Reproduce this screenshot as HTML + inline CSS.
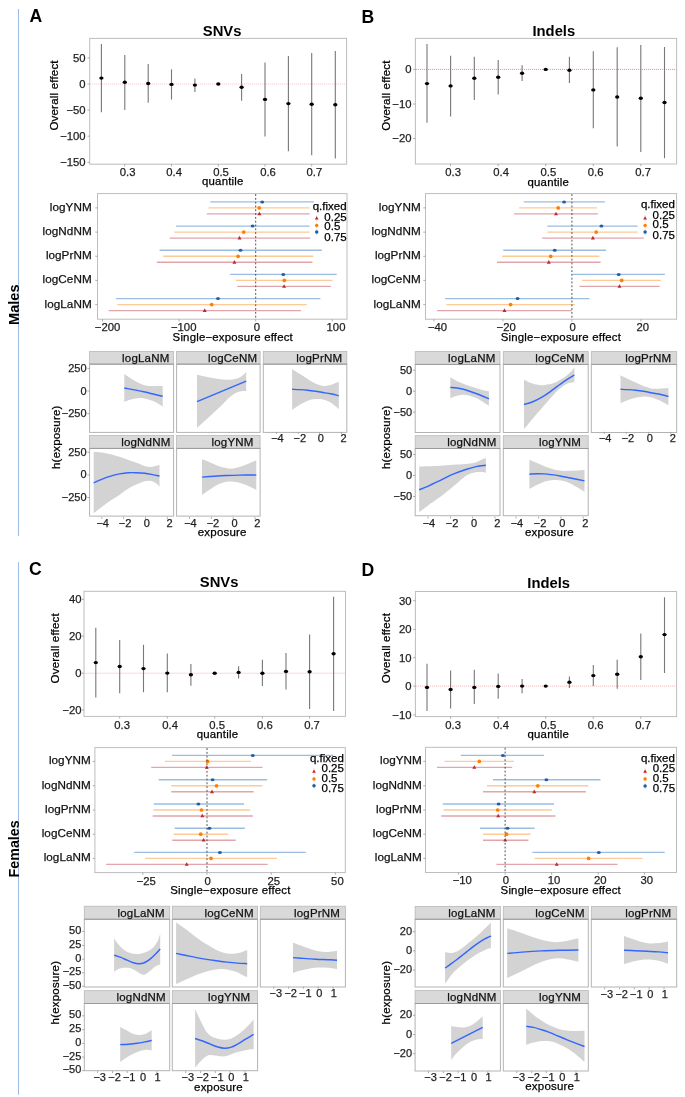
<!DOCTYPE html>
<html><head><meta charset="utf-8"><title>Figure</title>
<style>
html,body{margin:0;padding:0;background:#fff;}
body{width:685px;height:1097px;overflow:hidden;}
svg{display:block;font-family:"Liberation Sans", sans-serif;will-change:transform;}
</style></head>
<body>
<svg width="685" height="1097" viewBox="0 0 685 1097">
<rect x="0" y="0" width="685" height="1097" fill="#ffffff"/>
<line x1="18.50" y1="9.00" x2="18.50" y2="536.00" stroke="#9dbde4" stroke-width="1.1"/>
<line x1="18.50" y1="562.20" x2="18.50" y2="1094.70" stroke="#9dbde4" stroke-width="1.1"/>
<text x="19.30" y="304.70" font-size="14.6" text-anchor="middle" font-weight="bold" fill="#000" transform="rotate(-90 19.30 304.70)">Males</text>
<text x="19.30" y="848.90" font-size="14.3" text-anchor="middle" font-weight="bold" fill="#000" transform="rotate(-90 19.30 848.90)">Females</text>
<text x="29.40" y="22.30" font-size="17.6" text-anchor="start" font-weight="bold" fill="#000">A</text>
<text x="361.40" y="22.50" font-size="17.6" text-anchor="start" font-weight="bold" fill="#000">B</text>
<text x="29.00" y="575.40" font-size="17.6" text-anchor="start" font-weight="bold" fill="#000">C</text>
<text x="361.40" y="576.00" font-size="17.6" text-anchor="start" font-weight="bold" fill="#000">D</text>
<rect x="89.70" y="38.40" width="256.90" height="125.80" fill="#ffffff" stroke="#bdbdbd" stroke-width="1.0"/>
<line x1="90.20" y1="84.00" x2="346.10" y2="84.00" stroke="#f0c4c8" stroke-width="1.0" stroke-dasharray="1,1"/>
<line x1="87.50" y1="57.90" x2="89.70" y2="57.90" stroke="#9a9a9a" stroke-width="0.8"/>
<text x="85.60" y="61.70" font-size="11.3" text-anchor="end" stroke="#1e1e1e" stroke-width="0.25" fill="#1e1e1e">50</text>
<line x1="87.50" y1="84.00" x2="89.70" y2="84.00" stroke="#9a9a9a" stroke-width="0.8"/>
<text x="85.60" y="87.80" font-size="11.3" text-anchor="end" stroke="#1e1e1e" stroke-width="0.25" fill="#1e1e1e">0</text>
<line x1="87.50" y1="110.10" x2="89.70" y2="110.10" stroke="#9a9a9a" stroke-width="0.8"/>
<text x="85.60" y="113.90" font-size="11.3" text-anchor="end" stroke="#1e1e1e" stroke-width="0.25" fill="#1e1e1e">−50</text>
<line x1="87.50" y1="136.20" x2="89.70" y2="136.20" stroke="#9a9a9a" stroke-width="0.8"/>
<text x="85.60" y="140.00" font-size="11.3" text-anchor="end" stroke="#1e1e1e" stroke-width="0.25" fill="#1e1e1e">−100</text>
<line x1="87.50" y1="162.30" x2="89.70" y2="162.30" stroke="#9a9a9a" stroke-width="0.8"/>
<text x="85.60" y="166.10" font-size="11.3" text-anchor="end" stroke="#1e1e1e" stroke-width="0.25" fill="#1e1e1e">−150</text>
<line x1="124.70" y1="164.20" x2="124.70" y2="166.40" stroke="#9a9a9a" stroke-width="0.8"/>
<text x="127.60" y="176.00" font-size="11.3" text-anchor="middle" stroke="#1e1e1e" stroke-width="0.25" fill="#1e1e1e">0.3</text>
<line x1="171.50" y1="164.20" x2="171.50" y2="166.40" stroke="#9a9a9a" stroke-width="0.8"/>
<text x="174.10" y="176.00" font-size="11.3" text-anchor="middle" stroke="#1e1e1e" stroke-width="0.25" fill="#1e1e1e">0.4</text>
<line x1="218.30" y1="164.20" x2="218.30" y2="166.40" stroke="#9a9a9a" stroke-width="0.8"/>
<text x="221.00" y="176.00" font-size="11.3" text-anchor="middle" stroke="#1e1e1e" stroke-width="0.25" fill="#1e1e1e">0.5</text>
<line x1="265.00" y1="164.20" x2="265.00" y2="166.40" stroke="#9a9a9a" stroke-width="0.8"/>
<text x="268.00" y="176.00" font-size="11.3" text-anchor="middle" stroke="#1e1e1e" stroke-width="0.25" fill="#1e1e1e">0.6</text>
<line x1="311.70" y1="164.20" x2="311.70" y2="166.40" stroke="#9a9a9a" stroke-width="0.8"/>
<text x="314.40" y="176.00" font-size="11.3" text-anchor="middle" stroke="#1e1e1e" stroke-width="0.25" fill="#1e1e1e">0.7</text>
<line x1="101.40" y1="44.00" x2="101.40" y2="112.20" stroke="#777777" stroke-width="1.1"/>
<ellipse cx="101.40" cy="78.10" rx="2.15" ry="1.7" fill="#000"/>
<line x1="124.80" y1="55.00" x2="124.80" y2="109.90" stroke="#777777" stroke-width="1.1"/>
<ellipse cx="124.80" cy="82.30" rx="2.15" ry="1.7" fill="#000"/>
<line x1="148.20" y1="64.10" x2="148.20" y2="102.70" stroke="#777777" stroke-width="1.1"/>
<ellipse cx="148.20" cy="83.50" rx="2.15" ry="1.7" fill="#000"/>
<line x1="171.50" y1="69.30" x2="171.50" y2="99.60" stroke="#777777" stroke-width="1.1"/>
<ellipse cx="171.50" cy="84.40" rx="2.15" ry="1.7" fill="#000"/>
<line x1="194.90" y1="78.40" x2="194.90" y2="91.90" stroke="#777777" stroke-width="1.1"/>
<ellipse cx="194.90" cy="85.10" rx="2.15" ry="1.7" fill="#000"/>
<ellipse cx="218.30" cy="84.00" rx="2.15" ry="1.7" fill="#000"/>
<line x1="241.60" y1="73.90" x2="241.60" y2="100.80" stroke="#777777" stroke-width="1.1"/>
<ellipse cx="241.60" cy="87.20" rx="2.15" ry="1.7" fill="#000"/>
<line x1="265.00" y1="62.50" x2="265.00" y2="136.50" stroke="#777777" stroke-width="1.1"/>
<ellipse cx="265.00" cy="99.40" rx="2.15" ry="1.7" fill="#000"/>
<line x1="288.40" y1="55.90" x2="288.40" y2="151.30" stroke="#777777" stroke-width="1.1"/>
<ellipse cx="288.40" cy="103.60" rx="2.15" ry="1.7" fill="#000"/>
<line x1="311.70" y1="53.10" x2="311.70" y2="155.20" stroke="#777777" stroke-width="1.1"/>
<ellipse cx="311.70" cy="104.30" rx="2.15" ry="1.7" fill="#000"/>
<line x1="335.30" y1="51.00" x2="335.30" y2="158.50" stroke="#777777" stroke-width="1.1"/>
<ellipse cx="335.30" cy="104.80" rx="2.15" ry="1.7" fill="#000"/>
<text x="222.10" y="35.60" font-size="14.8" text-anchor="middle" font-weight="bold" fill="#000">SNVs</text>
<text x="222.80" y="185.10" font-size="11.4" text-anchor="middle" letter-spacing="0.2" stroke="#000" stroke-width="0.25" fill="#000">quantile</text>
<text x="57.60" y="95.40" font-size="11.5" text-anchor="middle" letter-spacing="0.2" stroke="#000" stroke-width="0.25" fill="#000" transform="rotate(-90 57.60 95.40)">Overall effect</text>
<rect x="415.40" y="38.40" width="261.20" height="125.60" fill="#ffffff" stroke="#bdbdbd" stroke-width="1.0"/>
<line x1="415.90" y1="69.40" x2="676.10" y2="69.40" stroke="#dd8691" stroke-width="1.0" stroke-dasharray="1,1"/>
<line x1="413.20" y1="69.40" x2="415.40" y2="69.40" stroke="#9a9a9a" stroke-width="0.8"/>
<text x="411.50" y="73.20" font-size="11.3" text-anchor="end" stroke="#1e1e1e" stroke-width="0.25" fill="#1e1e1e">0</text>
<line x1="413.20" y1="104.00" x2="415.40" y2="104.00" stroke="#9a9a9a" stroke-width="0.8"/>
<text x="411.50" y="107.80" font-size="11.3" text-anchor="end" stroke="#1e1e1e" stroke-width="0.25" fill="#1e1e1e">−10</text>
<line x1="413.20" y1="138.50" x2="415.40" y2="138.50" stroke="#9a9a9a" stroke-width="0.8"/>
<text x="411.50" y="142.30" font-size="11.3" text-anchor="end" stroke="#1e1e1e" stroke-width="0.25" fill="#1e1e1e">−20</text>
<line x1="450.60" y1="164.00" x2="450.60" y2="166.20" stroke="#9a9a9a" stroke-width="0.8"/>
<text x="453.20" y="176.00" font-size="11.3" text-anchor="middle" stroke="#1e1e1e" stroke-width="0.25" fill="#1e1e1e">0.3</text>
<line x1="498.20" y1="164.00" x2="498.20" y2="166.20" stroke="#9a9a9a" stroke-width="0.8"/>
<text x="501.10" y="176.00" font-size="11.3" text-anchor="middle" stroke="#1e1e1e" stroke-width="0.25" fill="#1e1e1e">0.4</text>
<line x1="545.70" y1="164.00" x2="545.70" y2="166.20" stroke="#9a9a9a" stroke-width="0.8"/>
<text x="548.40" y="176.00" font-size="11.3" text-anchor="middle" stroke="#1e1e1e" stroke-width="0.25" fill="#1e1e1e">0.5</text>
<line x1="593.30" y1="164.00" x2="593.30" y2="166.20" stroke="#9a9a9a" stroke-width="0.8"/>
<text x="595.60" y="176.00" font-size="11.3" text-anchor="middle" stroke="#1e1e1e" stroke-width="0.25" fill="#1e1e1e">0.6</text>
<line x1="640.80" y1="164.00" x2="640.80" y2="166.20" stroke="#9a9a9a" stroke-width="0.8"/>
<text x="643.20" y="176.00" font-size="11.3" text-anchor="middle" stroke="#1e1e1e" stroke-width="0.25" fill="#1e1e1e">0.7</text>
<line x1="427.00" y1="44.10" x2="427.00" y2="122.70" stroke="#777777" stroke-width="1.1"/>
<ellipse cx="427.00" cy="83.60" rx="2.15" ry="1.7" fill="#000"/>
<line x1="450.60" y1="55.70" x2="450.60" y2="116.40" stroke="#777777" stroke-width="1.1"/>
<ellipse cx="450.60" cy="85.90" rx="2.15" ry="1.7" fill="#000"/>
<line x1="474.30" y1="56.80" x2="474.30" y2="100.10" stroke="#777777" stroke-width="1.1"/>
<ellipse cx="474.30" cy="78.30" rx="2.15" ry="1.7" fill="#000"/>
<line x1="498.20" y1="59.90" x2="498.20" y2="94.60" stroke="#777777" stroke-width="1.1"/>
<ellipse cx="498.20" cy="77.20" rx="2.15" ry="1.7" fill="#000"/>
<line x1="522.10" y1="65.20" x2="522.10" y2="81.00" stroke="#777777" stroke-width="1.1"/>
<ellipse cx="522.10" cy="73.30" rx="2.15" ry="1.7" fill="#000"/>
<ellipse cx="545.70" cy="69.40" rx="2.15" ry="1.7" fill="#000"/>
<line x1="569.40" y1="56.80" x2="569.40" y2="83.00" stroke="#777777" stroke-width="1.1"/>
<ellipse cx="569.40" cy="70.20" rx="2.15" ry="1.7" fill="#000"/>
<line x1="593.30" y1="51.20" x2="593.30" y2="128.20" stroke="#777777" stroke-width="1.1"/>
<ellipse cx="593.30" cy="89.90" rx="2.15" ry="1.7" fill="#000"/>
<line x1="617.20" y1="47.30" x2="617.20" y2="146.60" stroke="#777777" stroke-width="1.1"/>
<ellipse cx="617.20" cy="97.00" rx="2.15" ry="1.7" fill="#000"/>
<line x1="640.80" y1="44.90" x2="640.80" y2="151.90" stroke="#777777" stroke-width="1.1"/>
<ellipse cx="640.80" cy="98.30" rx="2.15" ry="1.7" fill="#000"/>
<line x1="664.50" y1="47.00" x2="664.50" y2="158.20" stroke="#777777" stroke-width="1.1"/>
<ellipse cx="664.50" cy="102.50" rx="2.15" ry="1.7" fill="#000"/>
<text x="553.85" y="35.50" font-size="14.8" text-anchor="middle" font-weight="bold" fill="#000">Indels</text>
<text x="548.30" y="185.50" font-size="11.4" text-anchor="middle" letter-spacing="0.2" stroke="#000" stroke-width="0.25" fill="#000">quantile</text>
<text x="389.90" y="95.50" font-size="11.5" text-anchor="middle" letter-spacing="0.2" stroke="#000" stroke-width="0.25" fill="#000" transform="rotate(-90 389.90 95.50)">Overall effect</text>
<rect x="84.00" y="591.30" width="261.50" height="125.10" fill="#ffffff" stroke="#bdbdbd" stroke-width="1.0"/>
<line x1="84.50" y1="673.20" x2="345.00" y2="673.20" stroke="#ecb4ba" stroke-width="1.0" stroke-dasharray="1,1"/>
<line x1="81.80" y1="599.30" x2="84.00" y2="599.30" stroke="#9a9a9a" stroke-width="0.8"/>
<text x="81.60" y="603.10" font-size="11.3" text-anchor="end" stroke="#1e1e1e" stroke-width="0.25" fill="#1e1e1e">40</text>
<line x1="81.80" y1="636.20" x2="84.00" y2="636.20" stroke="#9a9a9a" stroke-width="0.8"/>
<text x="81.60" y="640.00" font-size="11.3" text-anchor="end" stroke="#1e1e1e" stroke-width="0.25" fill="#1e1e1e">20</text>
<line x1="81.80" y1="673.20" x2="84.00" y2="673.20" stroke="#9a9a9a" stroke-width="0.8"/>
<text x="81.60" y="677.00" font-size="11.3" text-anchor="end" stroke="#1e1e1e" stroke-width="0.25" fill="#1e1e1e">0</text>
<line x1="81.80" y1="710.00" x2="84.00" y2="710.00" stroke="#9a9a9a" stroke-width="0.8"/>
<text x="81.60" y="713.80" font-size="11.3" text-anchor="end" stroke="#1e1e1e" stroke-width="0.25" fill="#1e1e1e">−20</text>
<line x1="119.70" y1="716.40" x2="119.70" y2="718.60" stroke="#9a9a9a" stroke-width="0.8"/>
<text x="122.20" y="728.90" font-size="11.3" text-anchor="middle" stroke="#1e1e1e" stroke-width="0.25" fill="#1e1e1e">0.3</text>
<line x1="167.30" y1="716.40" x2="167.30" y2="718.60" stroke="#9a9a9a" stroke-width="0.8"/>
<text x="170.10" y="728.90" font-size="11.3" text-anchor="middle" stroke="#1e1e1e" stroke-width="0.25" fill="#1e1e1e">0.4</text>
<line x1="214.70" y1="716.40" x2="214.70" y2="718.60" stroke="#9a9a9a" stroke-width="0.8"/>
<text x="217.20" y="728.90" font-size="11.3" text-anchor="middle" stroke="#1e1e1e" stroke-width="0.25" fill="#1e1e1e">0.5</text>
<line x1="262.40" y1="716.40" x2="262.40" y2="718.60" stroke="#9a9a9a" stroke-width="0.8"/>
<text x="264.90" y="728.90" font-size="11.3" text-anchor="middle" stroke="#1e1e1e" stroke-width="0.25" fill="#1e1e1e">0.6</text>
<line x1="309.60" y1="716.40" x2="309.60" y2="718.60" stroke="#9a9a9a" stroke-width="0.8"/>
<text x="312.00" y="728.90" font-size="11.3" text-anchor="middle" stroke="#1e1e1e" stroke-width="0.25" fill="#1e1e1e">0.7</text>
<line x1="95.80" y1="627.80" x2="95.80" y2="697.40" stroke="#777777" stroke-width="1.1"/>
<ellipse cx="95.80" cy="662.60" rx="2.15" ry="1.7" fill="#000"/>
<line x1="119.70" y1="640.10" x2="119.70" y2="693.20" stroke="#777777" stroke-width="1.1"/>
<ellipse cx="119.70" cy="666.50" rx="2.15" ry="1.7" fill="#000"/>
<line x1="143.50" y1="644.80" x2="143.50" y2="692.20" stroke="#777777" stroke-width="1.1"/>
<ellipse cx="143.50" cy="668.60" rx="2.15" ry="1.7" fill="#000"/>
<line x1="167.30" y1="653.50" x2="167.30" y2="692.20" stroke="#777777" stroke-width="1.1"/>
<ellipse cx="167.30" cy="673.10" rx="2.15" ry="1.7" fill="#000"/>
<line x1="190.90" y1="664.00" x2="190.90" y2="685.70" stroke="#777777" stroke-width="1.1"/>
<ellipse cx="190.90" cy="674.70" rx="2.15" ry="1.7" fill="#000"/>
<ellipse cx="214.70" cy="673.20" rx="2.15" ry="1.7" fill="#000"/>
<line x1="238.60" y1="666.20" x2="238.60" y2="678.60" stroke="#777777" stroke-width="1.1"/>
<ellipse cx="238.60" cy="672.40" rx="2.15" ry="1.7" fill="#000"/>
<line x1="262.40" y1="659.80" x2="262.40" y2="686.10" stroke="#777777" stroke-width="1.1"/>
<ellipse cx="262.40" cy="673.20" rx="2.15" ry="1.7" fill="#000"/>
<line x1="286.00" y1="653.10" x2="286.00" y2="689.60" stroke="#777777" stroke-width="1.1"/>
<ellipse cx="286.00" cy="671.40" rx="2.15" ry="1.7" fill="#000"/>
<line x1="309.60" y1="634.50" x2="309.60" y2="708.90" stroke="#777777" stroke-width="1.1"/>
<ellipse cx="309.60" cy="671.70" rx="2.15" ry="1.7" fill="#000"/>
<line x1="333.60" y1="596.70" x2="333.60" y2="710.90" stroke="#777777" stroke-width="1.1"/>
<ellipse cx="333.60" cy="653.80" rx="2.15" ry="1.7" fill="#000"/>
<text x="219.10" y="587.30" font-size="14.8" text-anchor="middle" font-weight="bold" fill="#000">SNVs</text>
<text x="217.50" y="738.20" font-size="11.4" text-anchor="middle" letter-spacing="0.2" stroke="#000" stroke-width="0.25" fill="#000">quantile</text>
<text x="58.70" y="648.20" font-size="11.5" text-anchor="middle" letter-spacing="0.2" stroke="#000" stroke-width="0.25" fill="#000" transform="rotate(-90 58.70 648.20)">Overall effect</text>
<rect x="415.40" y="591.50" width="261.20" height="125.10" fill="#ffffff" stroke="#bdbdbd" stroke-width="1.0"/>
<line x1="415.90" y1="686.10" x2="676.10" y2="686.10" stroke="#ecb4ba" stroke-width="1.0" stroke-dasharray="1,1"/>
<line x1="413.20" y1="600.70" x2="415.40" y2="600.70" stroke="#9a9a9a" stroke-width="0.8"/>
<text x="411.50" y="604.50" font-size="11.3" text-anchor="end" stroke="#1e1e1e" stroke-width="0.25" fill="#1e1e1e">30</text>
<line x1="413.20" y1="629.40" x2="415.40" y2="629.40" stroke="#9a9a9a" stroke-width="0.8"/>
<text x="411.50" y="633.20" font-size="11.3" text-anchor="end" stroke="#1e1e1e" stroke-width="0.25" fill="#1e1e1e">20</text>
<line x1="413.20" y1="657.70" x2="415.40" y2="657.70" stroke="#9a9a9a" stroke-width="0.8"/>
<text x="411.50" y="661.50" font-size="11.3" text-anchor="end" stroke="#1e1e1e" stroke-width="0.25" fill="#1e1e1e">10</text>
<line x1="413.20" y1="686.10" x2="415.40" y2="686.10" stroke="#9a9a9a" stroke-width="0.8"/>
<text x="411.50" y="689.90" font-size="11.3" text-anchor="end" stroke="#1e1e1e" stroke-width="0.25" fill="#1e1e1e">0</text>
<line x1="413.20" y1="715.00" x2="415.40" y2="715.00" stroke="#9a9a9a" stroke-width="0.8"/>
<text x="411.50" y="718.80" font-size="11.3" text-anchor="end" stroke="#1e1e1e" stroke-width="0.25" fill="#1e1e1e">−10</text>
<line x1="450.60" y1="716.60" x2="450.60" y2="718.80" stroke="#9a9a9a" stroke-width="0.8"/>
<text x="453.20" y="729.20" font-size="11.3" text-anchor="middle" stroke="#1e1e1e" stroke-width="0.25" fill="#1e1e1e">0.3</text>
<line x1="498.20" y1="716.60" x2="498.20" y2="718.80" stroke="#9a9a9a" stroke-width="0.8"/>
<text x="501.10" y="729.20" font-size="11.3" text-anchor="middle" stroke="#1e1e1e" stroke-width="0.25" fill="#1e1e1e">0.4</text>
<line x1="545.70" y1="716.60" x2="545.70" y2="718.80" stroke="#9a9a9a" stroke-width="0.8"/>
<text x="548.40" y="729.20" font-size="11.3" text-anchor="middle" stroke="#1e1e1e" stroke-width="0.25" fill="#1e1e1e">0.5</text>
<line x1="593.30" y1="716.60" x2="593.30" y2="718.80" stroke="#9a9a9a" stroke-width="0.8"/>
<text x="595.60" y="729.20" font-size="11.3" text-anchor="middle" stroke="#1e1e1e" stroke-width="0.25" fill="#1e1e1e">0.6</text>
<line x1="640.80" y1="716.60" x2="640.80" y2="718.80" stroke="#9a9a9a" stroke-width="0.8"/>
<text x="643.20" y="729.20" font-size="11.3" text-anchor="middle" stroke="#1e1e1e" stroke-width="0.25" fill="#1e1e1e">0.7</text>
<line x1="427.00" y1="663.80" x2="427.00" y2="711.10" stroke="#777777" stroke-width="1.1"/>
<ellipse cx="427.00" cy="687.40" rx="2.15" ry="1.7" fill="#000"/>
<line x1="450.60" y1="670.40" x2="450.60" y2="708.40" stroke="#777777" stroke-width="1.1"/>
<ellipse cx="450.60" cy="689.50" rx="2.15" ry="1.7" fill="#000"/>
<line x1="474.30" y1="669.80" x2="474.30" y2="704.00" stroke="#777777" stroke-width="1.1"/>
<ellipse cx="474.30" cy="687.40" rx="2.15" ry="1.7" fill="#000"/>
<line x1="498.20" y1="673.50" x2="498.20" y2="698.70" stroke="#777777" stroke-width="1.1"/>
<ellipse cx="498.20" cy="686.40" rx="2.15" ry="1.7" fill="#000"/>
<line x1="522.10" y1="679.00" x2="522.10" y2="693.20" stroke="#777777" stroke-width="1.1"/>
<ellipse cx="522.10" cy="686.10" rx="2.15" ry="1.7" fill="#000"/>
<ellipse cx="545.70" cy="686.10" rx="2.15" ry="1.7" fill="#000"/>
<line x1="569.40" y1="676.40" x2="569.40" y2="688.00" stroke="#777777" stroke-width="1.1"/>
<ellipse cx="569.40" cy="682.20" rx="2.15" ry="1.7" fill="#000"/>
<line x1="593.30" y1="665.10" x2="593.30" y2="686.10" stroke="#777777" stroke-width="1.1"/>
<ellipse cx="593.30" cy="675.60" rx="2.15" ry="1.7" fill="#000"/>
<line x1="617.20" y1="659.80" x2="617.20" y2="688.70" stroke="#777777" stroke-width="1.1"/>
<ellipse cx="617.20" cy="674.30" rx="2.15" ry="1.7" fill="#000"/>
<line x1="640.80" y1="633.60" x2="640.80" y2="680.10" stroke="#777777" stroke-width="1.1"/>
<ellipse cx="640.80" cy="656.70" rx="2.15" ry="1.7" fill="#000"/>
<line x1="664.50" y1="597.30" x2="664.50" y2="673.00" stroke="#777777" stroke-width="1.1"/>
<ellipse cx="664.50" cy="634.60" rx="2.15" ry="1.7" fill="#000"/>
<text x="548.65" y="587.50" font-size="14.8" text-anchor="middle" font-weight="bold" fill="#000">Indels</text>
<text x="548.30" y="738.00" font-size="11.4" text-anchor="middle" letter-spacing="0.2" stroke="#000" stroke-width="0.25" fill="#000">quantile</text>
<text x="389.90" y="648.00" font-size="11.5" text-anchor="middle" letter-spacing="0.2" stroke="#000" stroke-width="0.25" fill="#000" transform="rotate(-90 389.90 648.00)">Overall effect</text>
<rect x="97.50" y="193.60" width="249.50" height="125.60" fill="#ffffff" stroke="#bdbdbd" stroke-width="1.0"/>
<line x1="95.30" y1="207.90" x2="97.50" y2="207.90" stroke="#9a9a9a" stroke-width="0.8"/>
<text x="91.70" y="210.90" font-size="11.7" text-anchor="end" letter-spacing="0.05" stroke="#111" stroke-width="0.25" fill="#111">logYNM</text>
<line x1="95.30" y1="232.10" x2="97.50" y2="232.10" stroke="#9a9a9a" stroke-width="0.8"/>
<text x="91.70" y="235.10" font-size="11.7" text-anchor="end" letter-spacing="0.05" stroke="#111" stroke-width="0.25" fill="#111">logNdNM</text>
<line x1="95.30" y1="256.30" x2="97.50" y2="256.30" stroke="#9a9a9a" stroke-width="0.8"/>
<text x="91.70" y="259.30" font-size="11.7" text-anchor="end" letter-spacing="0.05" stroke="#111" stroke-width="0.25" fill="#111">logPrNM</text>
<line x1="95.30" y1="280.40" x2="97.50" y2="280.40" stroke="#9a9a9a" stroke-width="0.8"/>
<text x="91.70" y="283.40" font-size="11.7" text-anchor="end" letter-spacing="0.05" stroke="#111" stroke-width="0.25" fill="#111">logCeNM</text>
<line x1="95.30" y1="304.60" x2="97.50" y2="304.60" stroke="#9a9a9a" stroke-width="0.8"/>
<text x="91.70" y="307.60" font-size="11.7" text-anchor="end" letter-spacing="0.05" stroke="#111" stroke-width="0.25" fill="#111">logLaNM</text>
<line x1="102.50" y1="319.20" x2="102.50" y2="321.40" stroke="#9a9a9a" stroke-width="0.8"/>
<text x="107.60" y="331.10" font-size="11.3" text-anchor="middle" stroke="#1e1e1e" stroke-width="0.25" fill="#1e1e1e">−200</text>
<line x1="179.10" y1="319.20" x2="179.10" y2="321.40" stroke="#9a9a9a" stroke-width="0.8"/>
<text x="183.70" y="331.10" font-size="11.3" text-anchor="middle" stroke="#1e1e1e" stroke-width="0.25" fill="#1e1e1e">−100</text>
<line x1="255.70" y1="319.20" x2="255.70" y2="321.40" stroke="#9a9a9a" stroke-width="0.8"/>
<text x="257.00" y="331.10" font-size="11.3" text-anchor="middle" stroke="#1e1e1e" stroke-width="0.25" fill="#1e1e1e">0</text>
<line x1="332.30" y1="319.20" x2="332.30" y2="321.40" stroke="#9a9a9a" stroke-width="0.8"/>
<text x="336.00" y="331.10" font-size="11.3" text-anchor="middle" stroke="#1e1e1e" stroke-width="0.25" fill="#1e1e1e">100</text>
<line x1="210.30" y1="201.90" x2="313.80" y2="201.90" stroke="#9bbde0" stroke-width="1.4"/>
<line x1="208.50" y1="207.90" x2="309.60" y2="207.90" stroke="#fdca98" stroke-width="1.4"/>
<line x1="206.80" y1="213.90" x2="309.60" y2="213.90" stroke="#e2a5ab" stroke-width="1.4"/>
<ellipse cx="262.20" cy="201.90" rx="1.95" ry="1.5" fill="#1f5fa8"/>
<circle cx="259.20" cy="207.90" r="1.85" fill="#ff7f00"/>
<path d="M259.40,211.67 L261.40,215.27 L257.40,215.27 Z" fill="#c0282f"/>
<line x1="176.00" y1="226.10" x2="309.60" y2="226.10" stroke="#9bbde0" stroke-width="1.4"/>
<line x1="174.30" y1="232.10" x2="309.60" y2="232.10" stroke="#fdca98" stroke-width="1.4"/>
<line x1="169.70" y1="238.10" x2="310.30" y2="238.10" stroke="#e2a5ab" stroke-width="1.4"/>
<ellipse cx="252.60" cy="226.10" rx="1.95" ry="1.5" fill="#1f5fa8"/>
<circle cx="243.70" cy="232.10" r="1.85" fill="#ff7f00"/>
<path d="M239.50,235.87 L241.50,239.47 L237.50,239.47 Z" fill="#c0282f"/>
<line x1="159.60" y1="250.30" x2="321.80" y2="250.30" stroke="#9bbde0" stroke-width="1.4"/>
<line x1="163.10" y1="256.30" x2="313.40" y2="256.30" stroke="#fdca98" stroke-width="1.4"/>
<line x1="156.80" y1="262.30" x2="312.40" y2="262.30" stroke="#e2a5ab" stroke-width="1.4"/>
<ellipse cx="240.50" cy="250.30" rx="1.95" ry="1.5" fill="#1f5fa8"/>
<circle cx="238.10" cy="256.30" r="1.85" fill="#ff7f00"/>
<path d="M234.40,260.07 L236.40,263.67 L232.40,263.67 Z" fill="#c0282f"/>
<line x1="230.20" y1="274.40" x2="336.70" y2="274.40" stroke="#9bbde0" stroke-width="1.4"/>
<line x1="236.00" y1="280.40" x2="332.50" y2="280.40" stroke="#fdca98" stroke-width="1.4"/>
<line x1="237.40" y1="286.40" x2="330.90" y2="286.40" stroke="#e2a5ab" stroke-width="1.4"/>
<ellipse cx="283.30" cy="274.40" rx="1.95" ry="1.5" fill="#1f5fa8"/>
<circle cx="284.30" cy="280.40" r="1.85" fill="#ff7f00"/>
<path d="M284.10,284.17 L286.10,287.77 L282.10,287.77 Z" fill="#c0282f"/>
<line x1="115.90" y1="298.60" x2="320.40" y2="298.60" stroke="#9bbde0" stroke-width="1.4"/>
<line x1="117.30" y1="304.60" x2="306.60" y2="304.60" stroke="#fdca98" stroke-width="1.4"/>
<line x1="108.70" y1="310.60" x2="301.00" y2="310.60" stroke="#e2a5ab" stroke-width="1.4"/>
<ellipse cx="218.00" cy="298.60" rx="1.95" ry="1.5" fill="#1f5fa8"/>
<circle cx="211.70" cy="304.60" r="1.85" fill="#ff7f00"/>
<path d="M204.70,308.37 L206.70,311.97 L202.70,311.97 Z" fill="#c0282f"/>
<line x1="255.70" y1="194.10" x2="255.70" y2="318.70" stroke="#4a4a4a" stroke-width="0.95" stroke-dasharray="1.9,1.9"/>
<text x="312.70" y="209.50" font-size="11.5" text-anchor="start" stroke="#000" stroke-width="0.25" fill="#000">q.fixed</text>
<text x="324.30" y="220.50" font-size="11.5" text-anchor="start" stroke="#000" stroke-width="0.25" fill="#000">0.25</text>
<text x="324.30" y="230.30" font-size="11.5" text-anchor="start" stroke="#000" stroke-width="0.25" fill="#000">0.5</text>
<text x="324.30" y="240.80" font-size="11.5" text-anchor="start" stroke="#000" stroke-width="0.25" fill="#000">0.75</text>
<line x1="316.70" y1="215.10" x2="316.70" y2="221.50" stroke="#c0282f" stroke-width="0.7" opacity="0.3"/>
<path d="M316.70,216.18 L318.60,219.60 L314.80,219.60 Z" fill="#c0282f"/>
<line x1="316.70" y1="222.20" x2="316.70" y2="228.60" stroke="#ff7f00" stroke-width="0.7" opacity="0.3"/>
<circle cx="316.70" cy="225.40" r="1.75" fill="#ff7f00"/>
<line x1="316.70" y1="228.90" x2="316.70" y2="235.30" stroke="#1f5fa8" stroke-width="0.7" opacity="0.3"/>
<circle cx="316.70" cy="232.10" r="1.75" fill="#1f5fa8"/>
<text x="232.80" y="341.20" font-size="11.4" text-anchor="middle" letter-spacing="0.2" stroke="#000" stroke-width="0.25" fill="#000">Single−exposure effect</text>
<rect x="425.50" y="193.60" width="251.10" height="125.60" fill="#ffffff" stroke="#bdbdbd" stroke-width="1.0"/>
<line x1="423.30" y1="207.90" x2="425.50" y2="207.90" stroke="#9a9a9a" stroke-width="0.8"/>
<text x="420.70" y="210.90" font-size="11.7" text-anchor="end" letter-spacing="0.05" stroke="#111" stroke-width="0.25" fill="#111">logYNM</text>
<line x1="423.30" y1="232.10" x2="425.50" y2="232.10" stroke="#9a9a9a" stroke-width="0.8"/>
<text x="420.70" y="235.10" font-size="11.7" text-anchor="end" letter-spacing="0.05" stroke="#111" stroke-width="0.25" fill="#111">logNdNM</text>
<line x1="423.30" y1="256.30" x2="425.50" y2="256.30" stroke="#9a9a9a" stroke-width="0.8"/>
<text x="420.70" y="259.30" font-size="11.7" text-anchor="end" letter-spacing="0.05" stroke="#111" stroke-width="0.25" fill="#111">logPrNM</text>
<line x1="423.30" y1="280.40" x2="425.50" y2="280.40" stroke="#9a9a9a" stroke-width="0.8"/>
<text x="420.70" y="283.40" font-size="11.7" text-anchor="end" letter-spacing="0.05" stroke="#111" stroke-width="0.25" fill="#111">logCeNM</text>
<line x1="423.30" y1="304.60" x2="425.50" y2="304.60" stroke="#9a9a9a" stroke-width="0.8"/>
<text x="420.70" y="307.60" font-size="11.7" text-anchor="end" letter-spacing="0.05" stroke="#111" stroke-width="0.25" fill="#111">logLaNM</text>
<line x1="433.90" y1="319.20" x2="433.90" y2="321.40" stroke="#9a9a9a" stroke-width="0.8"/>
<text x="437.50" y="330.90" font-size="11.3" text-anchor="middle" stroke="#1e1e1e" stroke-width="0.25" fill="#1e1e1e">−40</text>
<line x1="502.90" y1="319.20" x2="502.90" y2="321.40" stroke="#9a9a9a" stroke-width="0.8"/>
<text x="506.20" y="330.90" font-size="11.3" text-anchor="middle" stroke="#1e1e1e" stroke-width="0.25" fill="#1e1e1e">−20</text>
<line x1="571.90" y1="319.20" x2="571.90" y2="321.40" stroke="#9a9a9a" stroke-width="0.8"/>
<text x="572.60" y="330.90" font-size="11.3" text-anchor="middle" stroke="#1e1e1e" stroke-width="0.25" fill="#1e1e1e">0</text>
<line x1="640.90" y1="319.20" x2="640.90" y2="321.40" stroke="#9a9a9a" stroke-width="0.8"/>
<text x="642.80" y="330.90" font-size="11.3" text-anchor="middle" stroke="#1e1e1e" stroke-width="0.25" fill="#1e1e1e">20</text>
<line x1="523.70" y1="201.90" x2="604.80" y2="201.90" stroke="#9bbde0" stroke-width="1.4"/>
<line x1="519.20" y1="207.90" x2="596.90" y2="207.90" stroke="#fdca98" stroke-width="1.4"/>
<line x1="514.10" y1="213.90" x2="597.90" y2="213.90" stroke="#e2a5ab" stroke-width="1.4"/>
<ellipse cx="564.10" cy="201.90" rx="1.95" ry="1.5" fill="#1f5fa8"/>
<circle cx="558.20" cy="207.90" r="1.85" fill="#ff7f00"/>
<path d="M556.00,211.67 L558.00,215.27 L554.00,215.27 Z" fill="#c0282f"/>
<line x1="547.30" y1="226.10" x2="637.60" y2="226.10" stroke="#9bbde0" stroke-width="1.4"/>
<line x1="547.30" y1="232.10" x2="637.60" y2="232.10" stroke="#fdca98" stroke-width="1.4"/>
<line x1="542.10" y1="238.10" x2="643.80" y2="238.10" stroke="#e2a5ab" stroke-width="1.4"/>
<ellipse cx="601.40" cy="226.10" rx="1.95" ry="1.5" fill="#1f5fa8"/>
<circle cx="596.20" cy="232.10" r="1.85" fill="#ff7f00"/>
<path d="M592.90,235.87 L594.90,239.47 L590.90,239.47 Z" fill="#c0282f"/>
<line x1="503.30" y1="250.30" x2="606.10" y2="250.30" stroke="#9bbde0" stroke-width="1.4"/>
<line x1="502.10" y1="256.30" x2="599.40" y2="256.30" stroke="#fdca98" stroke-width="1.4"/>
<line x1="497.00" y1="262.30" x2="600.60" y2="262.30" stroke="#e2a5ab" stroke-width="1.4"/>
<ellipse cx="554.70" cy="250.30" rx="1.95" ry="1.5" fill="#1f5fa8"/>
<circle cx="550.70" cy="256.30" r="1.85" fill="#ff7f00"/>
<path d="M548.80,260.07 L550.80,263.67 L546.80,263.67 Z" fill="#c0282f"/>
<line x1="572.30" y1="274.40" x2="664.90" y2="274.40" stroke="#9bbde0" stroke-width="1.4"/>
<line x1="582.00" y1="280.40" x2="661.00" y2="280.40" stroke="#fdca98" stroke-width="1.4"/>
<line x1="579.50" y1="286.40" x2="659.70" y2="286.40" stroke="#e2a5ab" stroke-width="1.4"/>
<ellipse cx="618.70" cy="274.40" rx="1.95" ry="1.5" fill="#1f5fa8"/>
<circle cx="621.70" cy="280.40" r="1.85" fill="#ff7f00"/>
<path d="M619.50,284.17 L621.50,287.77 L617.50,287.77 Z" fill="#c0282f"/>
<line x1="445.10" y1="298.60" x2="589.50" y2="298.60" stroke="#9bbde0" stroke-width="1.4"/>
<line x1="446.30" y1="304.60" x2="574.80" y2="304.60" stroke="#fdca98" stroke-width="1.4"/>
<line x1="437.00" y1="310.60" x2="571.80" y2="310.60" stroke="#e2a5ab" stroke-width="1.4"/>
<ellipse cx="517.60" cy="298.60" rx="1.95" ry="1.5" fill="#1f5fa8"/>
<circle cx="510.60" cy="304.60" r="1.85" fill="#ff7f00"/>
<path d="M504.50,308.37 L506.50,311.97 L502.50,311.97 Z" fill="#c0282f"/>
<line x1="571.90" y1="194.10" x2="571.90" y2="318.70" stroke="#4a4a4a" stroke-width="0.95" stroke-dasharray="1.9,1.9"/>
<text x="640.90" y="207.90" font-size="11.5" text-anchor="start" stroke="#000" stroke-width="0.25" fill="#000">q.fixed</text>
<text x="652.60" y="218.70" font-size="11.5" text-anchor="start" stroke="#000" stroke-width="0.25" fill="#000">0.25</text>
<text x="652.60" y="228.30" font-size="11.5" text-anchor="start" stroke="#000" stroke-width="0.25" fill="#000">0.5</text>
<text x="652.60" y="239.20" font-size="11.5" text-anchor="start" stroke="#000" stroke-width="0.25" fill="#000">0.75</text>
<line x1="645.10" y1="215.10" x2="645.10" y2="221.50" stroke="#c0282f" stroke-width="0.7" opacity="0.3"/>
<path d="M645.10,216.18 L647.00,219.60 L643.20,219.60 Z" fill="#c0282f"/>
<line x1="645.10" y1="222.20" x2="645.10" y2="228.60" stroke="#ff7f00" stroke-width="0.7" opacity="0.3"/>
<circle cx="645.10" cy="225.40" r="1.75" fill="#ff7f00"/>
<line x1="645.10" y1="228.90" x2="645.10" y2="235.30" stroke="#1f5fa8" stroke-width="0.7" opacity="0.3"/>
<circle cx="645.10" cy="232.10" r="1.75" fill="#1f5fa8"/>
<text x="560.90" y="341.20" font-size="11.4" text-anchor="middle" letter-spacing="0.2" stroke="#000" stroke-width="0.25" fill="#000">Single−exposure effect</text>
<rect x="94.90" y="747.60" width="250.40" height="125.00" fill="#ffffff" stroke="#bdbdbd" stroke-width="1.0"/>
<line x1="92.70" y1="761.40" x2="94.90" y2="761.40" stroke="#9a9a9a" stroke-width="0.8"/>
<text x="90.80" y="764.40" font-size="11.7" text-anchor="end" letter-spacing="0.05" stroke="#111" stroke-width="0.25" fill="#111">logYNM</text>
<line x1="92.70" y1="785.80" x2="94.90" y2="785.80" stroke="#9a9a9a" stroke-width="0.8"/>
<text x="90.80" y="788.80" font-size="11.7" text-anchor="end" letter-spacing="0.05" stroke="#111" stroke-width="0.25" fill="#111">logNdNM</text>
<line x1="92.70" y1="810.00" x2="94.90" y2="810.00" stroke="#9a9a9a" stroke-width="0.8"/>
<text x="90.80" y="813.00" font-size="11.7" text-anchor="end" letter-spacing="0.05" stroke="#111" stroke-width="0.25" fill="#111">logPrNM</text>
<line x1="92.70" y1="834.20" x2="94.90" y2="834.20" stroke="#9a9a9a" stroke-width="0.8"/>
<text x="90.80" y="837.20" font-size="11.7" text-anchor="end" letter-spacing="0.05" stroke="#111" stroke-width="0.25" fill="#111">logCeNM</text>
<line x1="92.70" y1="858.40" x2="94.90" y2="858.40" stroke="#9a9a9a" stroke-width="0.8"/>
<text x="90.80" y="861.40" font-size="11.7" text-anchor="end" letter-spacing="0.05" stroke="#111" stroke-width="0.25" fill="#111">logLaNM</text>
<line x1="142.80" y1="872.60" x2="142.80" y2="874.80" stroke="#9a9a9a" stroke-width="0.8"/>
<text x="146.30" y="885.00" font-size="11.3" text-anchor="middle" stroke="#1e1e1e" stroke-width="0.25" fill="#1e1e1e">−25</text>
<line x1="207.00" y1="872.60" x2="207.00" y2="874.80" stroke="#9a9a9a" stroke-width="0.8"/>
<text x="207.60" y="885.00" font-size="11.3" text-anchor="middle" stroke="#1e1e1e" stroke-width="0.25" fill="#1e1e1e">0</text>
<line x1="271.20" y1="872.60" x2="271.20" y2="874.80" stroke="#9a9a9a" stroke-width="0.8"/>
<text x="273.80" y="885.00" font-size="11.3" text-anchor="middle" stroke="#1e1e1e" stroke-width="0.25" fill="#1e1e1e">25</text>
<line x1="335.40" y1="872.60" x2="335.40" y2="874.80" stroke="#9a9a9a" stroke-width="0.8"/>
<text x="337.40" y="885.00" font-size="11.3" text-anchor="middle" stroke="#1e1e1e" stroke-width="0.25" fill="#1e1e1e">50</text>
<line x1="172.00" y1="755.40" x2="333.20" y2="755.40" stroke="#9bbde0" stroke-width="1.4"/>
<line x1="165.00" y1="761.40" x2="250.90" y2="761.40" stroke="#fdca98" stroke-width="1.4"/>
<line x1="151.20" y1="767.40" x2="262.50" y2="767.40" stroke="#e2a5ab" stroke-width="1.4"/>
<ellipse cx="252.80" cy="755.40" rx="1.95" ry="1.5" fill="#1f5fa8"/>
<circle cx="207.60" cy="761.40" r="1.85" fill="#ff7f00"/>
<path d="M206.80,765.17 L208.80,768.77 L204.80,768.77 Z" fill="#c0282f"/>
<line x1="158.70" y1="779.80" x2="267.20" y2="779.80" stroke="#9bbde0" stroke-width="1.4"/>
<line x1="171.30" y1="785.80" x2="262.50" y2="785.80" stroke="#fdca98" stroke-width="1.4"/>
<line x1="171.30" y1="791.80" x2="253.60" y2="791.80" stroke="#e2a5ab" stroke-width="1.4"/>
<ellipse cx="212.60" cy="779.80" rx="1.95" ry="1.5" fill="#1f5fa8"/>
<circle cx="216.50" cy="785.80" r="1.85" fill="#ff7f00"/>
<path d="M212.00,789.57 L214.00,793.17 L210.00,793.17 Z" fill="#c0282f"/>
<line x1="153.80" y1="804.00" x2="244.10" y2="804.00" stroke="#9bbde0" stroke-width="1.4"/>
<line x1="153.30" y1="810.00" x2="250.10" y2="810.00" stroke="#fdca98" stroke-width="1.4"/>
<line x1="152.60" y1="816.00" x2="252.80" y2="816.00" stroke="#e2a5ab" stroke-width="1.4"/>
<ellipse cx="198.40" cy="804.00" rx="1.95" ry="1.5" fill="#1f5fa8"/>
<circle cx="201.50" cy="810.00" r="1.85" fill="#ff7f00"/>
<path d="M202.30,813.77 L204.30,817.37 L200.30,817.37 Z" fill="#c0282f"/>
<line x1="174.60" y1="828.20" x2="244.90" y2="828.20" stroke="#9bbde0" stroke-width="1.4"/>
<line x1="173.60" y1="834.20" x2="228.30" y2="834.20" stroke="#fdca98" stroke-width="1.4"/>
<line x1="172.20" y1="840.20" x2="235.70" y2="840.20" stroke="#e2a5ab" stroke-width="1.4"/>
<ellipse cx="209.40" cy="828.20" rx="1.95" ry="1.5" fill="#1f5fa8"/>
<circle cx="200.70" cy="834.20" r="1.85" fill="#ff7f00"/>
<path d="M203.60,837.97 L205.60,841.57 L201.60,841.57 Z" fill="#c0282f"/>
<line x1="134.20" y1="852.40" x2="305.80" y2="852.40" stroke="#9bbde0" stroke-width="1.4"/>
<line x1="145.10" y1="858.40" x2="276.90" y2="858.40" stroke="#fdca98" stroke-width="1.4"/>
<line x1="106.10" y1="864.40" x2="267.70" y2="864.40" stroke="#e2a5ab" stroke-width="1.4"/>
<ellipse cx="219.90" cy="852.40" rx="1.95" ry="1.5" fill="#1f5fa8"/>
<circle cx="211.00" cy="858.40" r="1.85" fill="#ff7f00"/>
<path d="M186.70,862.17 L188.70,865.77 L184.70,865.77 Z" fill="#c0282f"/>
<line x1="207.00" y1="748.10" x2="207.00" y2="872.10" stroke="#4a4a4a" stroke-width="0.95" stroke-dasharray="1.9,1.9"/>
<text x="309.90" y="761.50" font-size="11.5" text-anchor="start" stroke="#000" stroke-width="0.25" fill="#000">q.fixed</text>
<text x="321.50" y="771.50" font-size="11.5" text-anchor="start" stroke="#000" stroke-width="0.25" fill="#000">0.25</text>
<text x="321.50" y="782.30" font-size="11.5" text-anchor="start" stroke="#000" stroke-width="0.25" fill="#000">0.5</text>
<text x="321.50" y="792.40" font-size="11.5" text-anchor="start" stroke="#000" stroke-width="0.25" fill="#000">0.75</text>
<line x1="314.00" y1="768.30" x2="314.00" y2="774.70" stroke="#c0282f" stroke-width="0.7" opacity="0.3"/>
<path d="M314.00,769.38 L315.90,772.80 L312.10,772.80 Z" fill="#c0282f"/>
<line x1="314.00" y1="775.70" x2="314.00" y2="782.10" stroke="#ff7f00" stroke-width="0.7" opacity="0.3"/>
<circle cx="314.00" cy="778.90" r="1.75" fill="#ff7f00"/>
<line x1="314.00" y1="782.60" x2="314.00" y2="789.00" stroke="#1f5fa8" stroke-width="0.7" opacity="0.3"/>
<circle cx="314.00" cy="785.80" r="1.75" fill="#1f5fa8"/>
<text x="230.40" y="893.60" font-size="11.4" text-anchor="middle" letter-spacing="0.2" stroke="#000" stroke-width="0.25" fill="#000">Single−exposure effect</text>
<rect x="425.50" y="747.30" width="251.00" height="125.20" fill="#ffffff" stroke="#bdbdbd" stroke-width="1.0"/>
<line x1="423.30" y1="761.40" x2="425.50" y2="761.40" stroke="#9a9a9a" stroke-width="0.8"/>
<text x="421.90" y="764.40" font-size="11.7" text-anchor="end" letter-spacing="0.05" stroke="#111" stroke-width="0.25" fill="#111">logYNM</text>
<line x1="423.30" y1="785.80" x2="425.50" y2="785.80" stroke="#9a9a9a" stroke-width="0.8"/>
<text x="421.90" y="788.80" font-size="11.7" text-anchor="end" letter-spacing="0.05" stroke="#111" stroke-width="0.25" fill="#111">logNdNM</text>
<line x1="423.30" y1="810.00" x2="425.50" y2="810.00" stroke="#9a9a9a" stroke-width="0.8"/>
<text x="421.90" y="813.00" font-size="11.7" text-anchor="end" letter-spacing="0.05" stroke="#111" stroke-width="0.25" fill="#111">logPrNM</text>
<line x1="423.30" y1="834.20" x2="425.50" y2="834.20" stroke="#9a9a9a" stroke-width="0.8"/>
<text x="421.90" y="837.20" font-size="11.7" text-anchor="end" letter-spacing="0.05" stroke="#111" stroke-width="0.25" fill="#111">logCeNM</text>
<line x1="423.30" y1="858.40" x2="425.50" y2="858.40" stroke="#9a9a9a" stroke-width="0.8"/>
<text x="421.90" y="861.40" font-size="11.7" text-anchor="end" letter-spacing="0.05" stroke="#111" stroke-width="0.25" fill="#111">logLaNM</text>
<line x1="458.40" y1="872.50" x2="458.40" y2="874.70" stroke="#9a9a9a" stroke-width="0.8"/>
<text x="462.30" y="884.30" font-size="11.3" text-anchor="middle" stroke="#1e1e1e" stroke-width="0.25" fill="#1e1e1e">−10</text>
<line x1="505.20" y1="872.50" x2="505.20" y2="874.70" stroke="#9a9a9a" stroke-width="0.8"/>
<text x="505.90" y="884.30" font-size="11.3" text-anchor="middle" stroke="#1e1e1e" stroke-width="0.25" fill="#1e1e1e">0</text>
<line x1="551.60" y1="872.50" x2="551.60" y2="874.70" stroke="#9a9a9a" stroke-width="0.8"/>
<text x="554.00" y="884.30" font-size="11.3" text-anchor="middle" stroke="#1e1e1e" stroke-width="0.25" fill="#1e1e1e">10</text>
<line x1="598.20" y1="872.50" x2="598.20" y2="874.70" stroke="#9a9a9a" stroke-width="0.8"/>
<text x="600.30" y="884.30" font-size="11.3" text-anchor="middle" stroke="#1e1e1e" stroke-width="0.25" fill="#1e1e1e">20</text>
<line x1="644.60" y1="872.50" x2="644.60" y2="874.70" stroke="#9a9a9a" stroke-width="0.8"/>
<text x="646.80" y="884.30" font-size="11.3" text-anchor="middle" stroke="#1e1e1e" stroke-width="0.25" fill="#1e1e1e">30</text>
<line x1="460.80" y1="755.40" x2="544.00" y2="755.40" stroke="#9bbde0" stroke-width="1.4"/>
<line x1="444.40" y1="761.40" x2="513.80" y2="761.40" stroke="#fdca98" stroke-width="1.4"/>
<line x1="437.00" y1="767.40" x2="512.20" y2="767.40" stroke="#e2a5ab" stroke-width="1.4"/>
<ellipse cx="502.90" cy="755.40" rx="1.95" ry="1.5" fill="#1f5fa8"/>
<circle cx="479.30" cy="761.40" r="1.85" fill="#ff7f00"/>
<path d="M474.30,765.17 L476.30,768.77 L472.30,768.77 Z" fill="#c0282f"/>
<line x1="493.00" y1="779.80" x2="600.50" y2="779.80" stroke="#9bbde0" stroke-width="1.4"/>
<line x1="487.00" y1="785.80" x2="588.30" y2="785.80" stroke="#fdca98" stroke-width="1.4"/>
<line x1="483.00" y1="791.80" x2="585.90" y2="791.80" stroke="#e2a5ab" stroke-width="1.4"/>
<ellipse cx="546.40" cy="779.80" rx="1.95" ry="1.5" fill="#1f5fa8"/>
<circle cx="537.80" cy="785.80" r="1.85" fill="#ff7f00"/>
<path d="M534.30,789.57 L536.30,793.17 L532.30,793.17 Z" fill="#c0282f"/>
<line x1="442.80" y1="804.00" x2="554.00" y2="804.00" stroke="#9bbde0" stroke-width="1.4"/>
<line x1="443.70" y1="810.00" x2="551.80" y2="810.00" stroke="#fdca98" stroke-width="1.4"/>
<line x1="441.20" y1="816.00" x2="555.40" y2="816.00" stroke="#e2a5ab" stroke-width="1.4"/>
<ellipse cx="498.60" cy="804.00" rx="1.95" ry="1.5" fill="#1f5fa8"/>
<circle cx="497.70" cy="810.00" r="1.85" fill="#ff7f00"/>
<path d="M498.20,813.77 L500.20,817.37 L496.20,817.37 Z" fill="#c0282f"/>
<line x1="480.00" y1="828.20" x2="534.60" y2="828.20" stroke="#9bbde0" stroke-width="1.4"/>
<line x1="483.00" y1="834.20" x2="530.50" y2="834.20" stroke="#fdca98" stroke-width="1.4"/>
<line x1="483.00" y1="840.20" x2="528.40" y2="840.20" stroke="#e2a5ab" stroke-width="1.4"/>
<ellipse cx="507.50" cy="828.20" rx="1.95" ry="1.5" fill="#1f5fa8"/>
<circle cx="506.60" cy="834.20" r="1.85" fill="#ff7f00"/>
<path d="M505.20,837.97 L507.20,841.57 L503.20,841.57 Z" fill="#c0282f"/>
<line x1="532.40" y1="852.40" x2="664.70" y2="852.40" stroke="#9bbde0" stroke-width="1.4"/>
<line x1="534.60" y1="858.40" x2="642.60" y2="858.40" stroke="#fdca98" stroke-width="1.4"/>
<line x1="496.50" y1="864.40" x2="617.50" y2="864.40" stroke="#e2a5ab" stroke-width="1.4"/>
<ellipse cx="598.80" cy="852.40" rx="1.95" ry="1.5" fill="#1f5fa8"/>
<circle cx="588.60" cy="858.40" r="1.85" fill="#ff7f00"/>
<path d="M556.70,862.17 L558.70,865.77 L554.70,865.77 Z" fill="#c0282f"/>
<line x1="505.10" y1="747.80" x2="505.10" y2="872.00" stroke="#4a4a4a" stroke-width="0.95" stroke-dasharray="1.9,1.9"/>
<text x="640.90" y="761.50" font-size="11.5" text-anchor="start" stroke="#000" stroke-width="0.25" fill="#000">q.fixed</text>
<text x="652.70" y="771.90" font-size="11.5" text-anchor="start" stroke="#000" stroke-width="0.25" fill="#000">0.25</text>
<text x="652.70" y="782.30" font-size="11.5" text-anchor="start" stroke="#000" stroke-width="0.25" fill="#000">0.5</text>
<text x="652.70" y="792.40" font-size="11.5" text-anchor="start" stroke="#000" stroke-width="0.25" fill="#000">0.75</text>
<line x1="645.10" y1="768.30" x2="645.10" y2="774.70" stroke="#c0282f" stroke-width="0.7" opacity="0.3"/>
<path d="M645.10,769.38 L647.00,772.80 L643.20,772.80 Z" fill="#c0282f"/>
<line x1="645.10" y1="775.70" x2="645.10" y2="782.10" stroke="#ff7f00" stroke-width="0.7" opacity="0.3"/>
<circle cx="645.10" cy="778.90" r="1.75" fill="#ff7f00"/>
<line x1="645.10" y1="782.80" x2="645.10" y2="789.20" stroke="#1f5fa8" stroke-width="0.7" opacity="0.3"/>
<circle cx="645.10" cy="786.00" r="1.75" fill="#1f5fa8"/>
<text x="560.80" y="894.00" font-size="11.4" text-anchor="middle" letter-spacing="0.2" stroke="#000" stroke-width="0.25" fill="#000">Single−exposure effect</text>
<rect x="89.60" y="364.10" width="84.00" height="68.30" fill="#ffffff" stroke="#b3b3b3" stroke-width="1.0"/>
<rect x="89.60" y="351.40" width="84.00" height="12.70" fill="#d9d9d9" stroke="#b8b8b8" stroke-width="0.8"/>
<line x1="89.60" y1="364.10" x2="173.60" y2="364.10" stroke="#9a9a9a" stroke-width="1.0"/>
<text x="145.80" y="361.70" font-size="11.5" text-anchor="middle" letter-spacing="0.2" stroke="#111" stroke-width="0.25" fill="#111">logLaNM</text>
<rect x="176.60" y="364.10" width="83.50" height="68.30" fill="#ffffff" stroke="#b3b3b3" stroke-width="1.0"/>
<rect x="176.60" y="351.40" width="83.50" height="12.70" fill="#d9d9d9" stroke="#b8b8b8" stroke-width="0.8"/>
<line x1="176.60" y1="364.10" x2="260.10" y2="364.10" stroke="#9a9a9a" stroke-width="1.0"/>
<text x="232.55" y="361.70" font-size="11.5" text-anchor="middle" letter-spacing="0.2" stroke="#111" stroke-width="0.25" fill="#111">logCeNM</text>
<rect x="263.30" y="364.10" width="83.50" height="68.30" fill="#ffffff" stroke="#b3b3b3" stroke-width="1.0"/>
<rect x="263.30" y="351.40" width="83.50" height="12.70" fill="#d9d9d9" stroke="#b8b8b8" stroke-width="0.8"/>
<line x1="263.30" y1="364.10" x2="346.80" y2="364.10" stroke="#9a9a9a" stroke-width="1.0"/>
<text x="319.25" y="361.70" font-size="11.5" text-anchor="middle" letter-spacing="0.2" stroke="#111" stroke-width="0.25" fill="#111">logPrNM</text>
<rect x="89.60" y="448.40" width="84.00" height="67.70" fill="#ffffff" stroke="#b3b3b3" stroke-width="1.0"/>
<rect x="89.60" y="435.50" width="84.00" height="12.90" fill="#d9d9d9" stroke="#b8b8b8" stroke-width="0.8"/>
<line x1="89.60" y1="448.40" x2="173.60" y2="448.40" stroke="#9a9a9a" stroke-width="1.0"/>
<text x="145.80" y="446.00" font-size="11.5" text-anchor="middle" letter-spacing="0.2" stroke="#111" stroke-width="0.25" fill="#111">logNdNM</text>
<rect x="176.60" y="448.40" width="83.50" height="67.70" fill="#ffffff" stroke="#b3b3b3" stroke-width="1.0"/>
<rect x="176.60" y="435.50" width="83.50" height="12.90" fill="#d9d9d9" stroke="#b8b8b8" stroke-width="0.8"/>
<line x1="176.60" y1="448.40" x2="260.10" y2="448.40" stroke="#9a9a9a" stroke-width="1.0"/>
<text x="232.55" y="446.00" font-size="11.5" text-anchor="middle" letter-spacing="0.2" stroke="#111" stroke-width="0.25" fill="#111">logYNM</text>
<path d="M124.30,374.10 C125.40,374.83 128.73,377.13 130.90,378.50 C133.07,379.87 135.18,381.23 137.30,382.30 C139.42,383.37 141.48,384.27 143.60,384.90 C145.72,385.53 147.88,385.90 150.00,386.10 C152.12,386.30 154.18,386.13 156.30,386.10 C158.42,386.07 161.63,385.93 162.70,385.90 L162.70,406.70 C161.63,406.02 158.42,403.70 156.30,402.60 C154.18,401.50 152.12,400.83 150.00,400.10 C147.88,399.37 145.72,398.52 143.60,398.20 C141.48,397.88 139.42,397.98 137.30,398.20 C135.18,398.42 133.07,398.87 130.90,399.50 C128.73,400.13 125.40,401.58 124.30,402.00 Z" fill="#d3d3d3" stroke="none"/>
<path d="M124.30,388.00 C127.52,388.63 137.20,390.42 143.60,391.80 C150.00,393.18 159.52,395.55 162.70,396.30" fill="none" stroke="#3366ff" stroke-width="1.45" stroke-linecap="butt"/>
<path d="M197.00,374.40 C198.37,374.77 202.35,375.95 205.20,376.60 C208.05,377.25 211.13,377.83 214.10,378.30 C217.07,378.77 220.25,379.15 223.00,379.40 C225.75,379.65 228.27,379.95 230.60,379.80 C232.93,379.65 235.10,379.13 237.00,378.50 C238.90,377.87 240.47,377.10 242.00,376.00 C243.53,374.90 245.50,372.58 246.20,371.90 L246.20,391.00 C245.08,391.08 241.47,391.05 239.50,391.50 C237.53,391.95 236.10,392.68 234.40,393.70 C232.70,394.72 231.20,395.90 229.30,397.60 C227.40,399.30 225.53,401.47 223.00,403.90 C220.47,406.33 217.07,409.45 214.10,412.20 C211.13,414.95 208.05,417.77 205.20,420.40 C202.35,423.03 198.37,426.73 197.00,428.00 Z" fill="#d3d3d3" stroke="none"/>
<path d="M197.00,401.60 C205.20,398.18 238.00,384.52 246.20,381.10" fill="none" stroke="#3366ff" stroke-width="1.45" stroke-linecap="butt"/>
<path d="M292.10,369.00 C293.43,369.85 297.50,372.42 300.10,374.10 C302.70,375.78 305.17,377.52 307.70,379.10 C310.23,380.68 312.75,382.47 315.30,383.60 C317.85,384.73 320.45,385.68 323.00,385.90 C325.55,386.12 327.97,385.60 330.60,384.90 C333.23,384.20 337.43,382.23 338.80,381.70 L338.80,409.00 C337.43,407.93 333.23,404.18 330.60,402.60 C327.97,401.02 325.55,400.08 323.00,399.50 C320.45,398.92 317.85,398.90 315.30,399.10 C312.75,399.30 310.23,399.80 307.70,400.70 C305.17,401.60 302.70,402.95 300.10,404.50 C297.50,406.05 293.43,409.08 292.10,410.00 Z" fill="#d3d3d3" stroke="none"/>
<path d="M292.10,389.30 C293.43,389.35 297.50,389.45 300.10,389.60 C302.70,389.75 305.17,389.93 307.70,390.20 C310.23,390.47 312.75,390.82 315.30,391.20 C317.85,391.58 320.45,392.07 323.00,392.50 C325.55,392.93 327.97,393.27 330.60,393.80 C333.23,394.33 337.43,395.38 338.80,395.70" fill="none" stroke="#3366ff" stroke-width="1.45" stroke-linecap="butt"/>
<path d="M93.70,451.70 C95.03,451.85 98.88,452.17 101.70,452.60 C104.52,453.03 107.63,453.60 110.60,454.30 C113.57,455.00 116.53,455.85 119.50,456.80 C122.47,457.75 125.43,458.95 128.40,460.00 C131.37,461.05 134.55,462.05 137.30,463.10 C140.05,464.15 142.58,465.65 144.90,466.30 C147.22,466.95 149.30,467.10 151.20,467.00 C153.10,466.90 154.92,466.02 156.30,465.70 C157.68,465.38 158.97,465.20 159.50,465.10 L159.50,486.60 C158.97,486.08 157.68,484.45 156.30,483.50 C154.92,482.55 153.10,481.27 151.20,480.90 C149.30,480.53 147.22,480.77 144.90,481.30 C142.58,481.83 140.05,482.90 137.30,484.10 C134.55,485.30 131.37,486.70 128.40,488.50 C125.43,490.30 122.47,492.88 119.50,494.90 C116.53,496.92 113.57,498.58 110.60,500.60 C107.63,502.62 104.52,504.88 101.70,507.00 C98.88,509.12 95.03,512.25 93.70,513.30 Z" fill="#d3d3d3" stroke="none"/>
<path d="M93.70,482.80 C95.03,482.22 98.88,480.42 101.70,479.30 C104.52,478.18 107.63,477.00 110.60,476.10 C113.57,475.20 116.53,474.47 119.50,473.90 C122.47,473.33 125.65,472.90 128.40,472.70 C131.15,472.50 133.25,472.60 136.00,472.70 C138.75,472.80 142.15,472.98 144.90,473.30 C147.65,473.62 150.07,474.13 152.50,474.60 C154.93,475.07 158.33,475.85 159.50,476.10" fill="none" stroke="#3366ff" stroke-width="1.45" stroke-linecap="butt"/>
<path d="M202.00,459.30 C203.38,459.83 207.43,461.33 210.30,462.50 C213.17,463.67 216.45,465.35 219.20,466.30 C221.95,467.25 224.68,467.82 226.80,468.20 C228.92,468.58 229.78,468.80 231.90,468.60 C234.02,468.40 236.75,467.80 239.50,467.00 C242.25,466.20 245.60,464.93 248.40,463.80 C251.20,462.67 254.98,460.80 256.30,460.20 L256.30,489.80 C254.98,489.17 251.20,487.17 248.40,486.00 C245.60,484.83 242.25,483.53 239.50,482.80 C236.75,482.07 234.02,481.77 231.90,481.60 C229.78,481.43 228.92,481.38 226.80,481.80 C224.68,482.22 221.95,482.87 219.20,484.10 C216.45,485.33 213.17,487.40 210.30,489.20 C207.43,491.00 203.38,493.95 202.00,494.90 Z" fill="#d3d3d3" stroke="none"/>
<path d="M202.00,477.10 C204.02,476.95 209.97,476.47 214.10,476.20 C218.23,475.93 222.57,475.68 226.80,475.50 C231.03,475.32 234.58,475.17 239.50,475.10 C244.42,475.03 253.50,475.10 256.30,475.10" fill="none" stroke="#3366ff" stroke-width="1.45" stroke-linecap="butt"/>
<line x1="87.40" y1="368.40" x2="89.60" y2="368.40" stroke="#9a9a9a" stroke-width="0.8"/>
<text x="86.60" y="371.90" font-size="11.0" text-anchor="end" stroke="#1e1e1e" stroke-width="0.25" fill="#1e1e1e">250</text>
<line x1="87.40" y1="391.00" x2="89.60" y2="391.00" stroke="#9a9a9a" stroke-width="0.8"/>
<text x="86.60" y="394.50" font-size="11.0" text-anchor="end" stroke="#1e1e1e" stroke-width="0.25" fill="#1e1e1e">0</text>
<line x1="87.40" y1="413.60" x2="89.60" y2="413.60" stroke="#9a9a9a" stroke-width="0.8"/>
<text x="86.60" y="417.10" font-size="11.0" text-anchor="end" stroke="#1e1e1e" stroke-width="0.25" fill="#1e1e1e">−250</text>
<line x1="87.40" y1="452.30" x2="89.60" y2="452.30" stroke="#9a9a9a" stroke-width="0.8"/>
<text x="86.60" y="455.80" font-size="11.0" text-anchor="end" stroke="#1e1e1e" stroke-width="0.25" fill="#1e1e1e">250</text>
<line x1="87.40" y1="474.90" x2="89.60" y2="474.90" stroke="#9a9a9a" stroke-width="0.8"/>
<text x="86.60" y="478.40" font-size="11.0" text-anchor="end" stroke="#1e1e1e" stroke-width="0.25" fill="#1e1e1e">0</text>
<line x1="87.40" y1="497.50" x2="89.60" y2="497.50" stroke="#9a9a9a" stroke-width="0.8"/>
<text x="86.60" y="501.00" font-size="11.0" text-anchor="end" stroke="#1e1e1e" stroke-width="0.25" fill="#1e1e1e">−250</text>
<line x1="276.50" y1="431.90" x2="276.50" y2="433.90" stroke="#9a9a9a" stroke-width="0.8"/>
<text x="277.40" y="442.10" font-size="11.0" text-anchor="middle" stroke="#1e1e1e" stroke-width="0.25" fill="#1e1e1e">−4</text>
<line x1="298.30" y1="431.90" x2="298.30" y2="433.90" stroke="#9a9a9a" stroke-width="0.8"/>
<text x="299.80" y="442.10" font-size="11.0" text-anchor="middle" stroke="#1e1e1e" stroke-width="0.25" fill="#1e1e1e">−2</text>
<line x1="319.60" y1="431.90" x2="319.60" y2="433.90" stroke="#9a9a9a" stroke-width="0.8"/>
<text x="320.90" y="442.10" font-size="11.0" text-anchor="middle" stroke="#1e1e1e" stroke-width="0.25" fill="#1e1e1e">0</text>
<line x1="341.30" y1="431.90" x2="341.30" y2="433.90" stroke="#9a9a9a" stroke-width="0.8"/>
<text x="343.50" y="442.10" font-size="11.0" text-anchor="middle" stroke="#1e1e1e" stroke-width="0.25" fill="#1e1e1e">2</text>
<line x1="101.80" y1="516.90" x2="101.80" y2="518.90" stroke="#9a9a9a" stroke-width="0.8"/>
<text x="102.70" y="527.10" font-size="11.0" text-anchor="middle" stroke="#1e1e1e" stroke-width="0.25" fill="#1e1e1e">−4</text>
<line x1="123.60" y1="516.90" x2="123.60" y2="518.90" stroke="#9a9a9a" stroke-width="0.8"/>
<text x="125.10" y="527.10" font-size="11.0" text-anchor="middle" stroke="#1e1e1e" stroke-width="0.25" fill="#1e1e1e">−2</text>
<line x1="145.50" y1="516.90" x2="145.50" y2="518.90" stroke="#9a9a9a" stroke-width="0.8"/>
<text x="146.80" y="527.10" font-size="11.0" text-anchor="middle" stroke="#1e1e1e" stroke-width="0.25" fill="#1e1e1e">0</text>
<line x1="167.30" y1="516.90" x2="167.30" y2="518.90" stroke="#9a9a9a" stroke-width="0.8"/>
<text x="169.50" y="527.10" font-size="11.0" text-anchor="middle" stroke="#1e1e1e" stroke-width="0.25" fill="#1e1e1e">2</text>
<line x1="189.50" y1="516.90" x2="189.50" y2="518.90" stroke="#9a9a9a" stroke-width="0.8"/>
<text x="190.40" y="527.10" font-size="11.0" text-anchor="middle" stroke="#1e1e1e" stroke-width="0.25" fill="#1e1e1e">−4</text>
<line x1="211.40" y1="516.90" x2="211.40" y2="518.90" stroke="#9a9a9a" stroke-width="0.8"/>
<text x="212.90" y="527.10" font-size="11.0" text-anchor="middle" stroke="#1e1e1e" stroke-width="0.25" fill="#1e1e1e">−2</text>
<line x1="233.20" y1="516.90" x2="233.20" y2="518.90" stroke="#9a9a9a" stroke-width="0.8"/>
<text x="234.50" y="527.10" font-size="11.0" text-anchor="middle" stroke="#1e1e1e" stroke-width="0.25" fill="#1e1e1e">0</text>
<line x1="255.00" y1="516.90" x2="255.00" y2="518.90" stroke="#9a9a9a" stroke-width="0.8"/>
<text x="257.20" y="527.10" font-size="11.0" text-anchor="middle" stroke="#1e1e1e" stroke-width="0.25" fill="#1e1e1e">2</text>
<text x="222.20" y="536.20" font-size="11.5" text-anchor="middle" letter-spacing="0.2" stroke="#000" stroke-width="0.25" fill="#000">exposure</text>
<text x="60.40" y="437.20" font-size="11.5" text-anchor="middle" letter-spacing="0.2" stroke="#000" stroke-width="0.25" fill="#000" transform="rotate(-90 60.40 437.20)">h(exposure)</text>
<rect x="415.20" y="364.40" width="84.80" height="68.10" fill="#ffffff" stroke="#b3b3b3" stroke-width="1.0"/>
<rect x="415.20" y="351.60" width="84.80" height="12.80" fill="#d9d9d9" stroke="#b8b8b8" stroke-width="0.8"/>
<line x1="415.20" y1="364.40" x2="500.00" y2="364.40" stroke="#9a9a9a" stroke-width="1.0"/>
<text x="471.80" y="362.00" font-size="11.5" text-anchor="middle" letter-spacing="0.2" stroke="#111" stroke-width="0.25" fill="#111">logLaNM</text>
<rect x="503.30" y="364.40" width="84.90" height="68.10" fill="#ffffff" stroke="#b3b3b3" stroke-width="1.0"/>
<rect x="503.30" y="351.60" width="84.90" height="12.80" fill="#d9d9d9" stroke="#b8b8b8" stroke-width="0.8"/>
<line x1="503.30" y1="364.40" x2="588.20" y2="364.40" stroke="#9a9a9a" stroke-width="1.0"/>
<text x="559.95" y="362.00" font-size="11.5" text-anchor="middle" letter-spacing="0.2" stroke="#111" stroke-width="0.25" fill="#111">logCeNM</text>
<rect x="591.30" y="364.40" width="85.40" height="68.10" fill="#ffffff" stroke="#b3b3b3" stroke-width="1.0"/>
<rect x="591.30" y="351.60" width="85.40" height="12.80" fill="#d9d9d9" stroke="#b8b8b8" stroke-width="0.8"/>
<line x1="591.30" y1="364.40" x2="676.70" y2="364.40" stroke="#9a9a9a" stroke-width="1.0"/>
<text x="648.20" y="362.00" font-size="11.5" text-anchor="middle" letter-spacing="0.2" stroke="#111" stroke-width="0.25" fill="#111">logPrNM</text>
<rect x="415.20" y="448.50" width="84.80" height="67.20" fill="#ffffff" stroke="#b3b3b3" stroke-width="1.0"/>
<rect x="415.20" y="435.70" width="84.80" height="12.80" fill="#d9d9d9" stroke="#b8b8b8" stroke-width="0.8"/>
<line x1="415.20" y1="448.50" x2="500.00" y2="448.50" stroke="#9a9a9a" stroke-width="1.0"/>
<text x="471.80" y="446.10" font-size="11.5" text-anchor="middle" letter-spacing="0.2" stroke="#111" stroke-width="0.25" fill="#111">logNdNM</text>
<rect x="503.30" y="448.50" width="84.90" height="67.20" fill="#ffffff" stroke="#b3b3b3" stroke-width="1.0"/>
<rect x="503.30" y="435.70" width="84.90" height="12.80" fill="#d9d9d9" stroke="#b8b8b8" stroke-width="0.8"/>
<line x1="503.30" y1="448.50" x2="588.20" y2="448.50" stroke="#9a9a9a" stroke-width="1.0"/>
<text x="559.95" y="446.10" font-size="11.5" text-anchor="middle" letter-spacing="0.2" stroke="#111" stroke-width="0.25" fill="#111">logYNM</text>
<path d="M450.30,377.20 C451.40,377.83 454.73,379.90 456.90,381.00 C459.07,382.10 461.18,382.95 463.30,383.80 C465.42,384.65 467.48,385.40 469.60,386.10 C471.72,386.80 473.88,387.37 476.00,388.00 C478.12,388.63 480.15,389.37 482.30,389.90 C484.45,390.43 487.80,390.98 488.90,391.20 L488.90,405.80 C487.80,405.07 484.45,402.73 482.30,401.40 C480.15,400.07 478.12,398.75 476.00,397.80 C473.88,396.85 471.72,396.20 469.60,395.70 C467.48,395.20 465.42,394.80 463.30,394.80 C461.18,394.80 459.07,395.13 456.90,395.70 C454.73,396.27 451.40,397.78 450.30,398.20 Z" fill="#d3d3d3" stroke="none"/>
<path d="M450.30,387.40 C451.40,387.50 454.73,387.68 456.90,388.00 C459.07,388.32 461.18,388.77 463.30,389.30 C465.42,389.83 467.48,390.50 469.60,391.20 C471.72,391.90 473.88,392.70 476.00,393.50 C478.12,394.30 480.15,395.12 482.30,396.00 C484.45,396.88 487.80,398.33 488.90,398.80" fill="none" stroke="#3366ff" stroke-width="1.45" stroke-linecap="butt"/>
<path d="M524.00,379.80 C525.15,380.33 528.47,382.15 530.90,383.00 C533.33,383.85 536.27,384.58 538.60,384.90 C540.93,385.22 542.37,385.22 544.90,384.90 C547.43,384.58 551.05,383.97 553.80,383.00 C556.55,382.03 558.87,380.70 561.40,379.10 C563.93,377.50 566.83,375.30 569.00,373.40 C571.17,371.50 573.50,368.65 574.40,367.70 L574.40,382.30 C573.50,382.42 570.73,382.47 569.00,383.00 C567.27,383.53 565.90,384.23 564.00,385.50 C562.10,386.77 559.93,388.38 557.60,390.60 C555.27,392.82 552.75,395.73 550.00,398.80 C547.25,401.87 544.07,405.60 541.10,409.00 C538.13,412.40 535.05,415.82 532.20,419.20 C529.35,422.58 525.37,427.62 524.00,429.30 Z" fill="#d3d3d3" stroke="none"/>
<path d="M524.00,404.50 C525.37,404.08 529.35,403.15 532.20,402.00 C535.05,400.85 538.13,399.30 541.10,397.60 C544.07,395.90 547.25,393.72 550.00,391.80 C552.75,389.88 554.85,388.10 557.60,386.10 C560.35,384.10 563.70,381.65 566.50,379.80 C569.30,377.95 573.08,375.80 574.40,375.00" fill="none" stroke="#3366ff" stroke-width="1.45" stroke-linecap="butt"/>
<path d="M620.50,375.30 C621.77,375.93 625.57,377.88 628.10,379.10 C630.63,380.32 633.17,381.43 635.70,382.60 C638.23,383.77 640.75,385.13 643.30,386.10 C645.85,387.07 648.45,387.97 651.00,388.40 C653.55,388.83 655.70,388.77 658.60,388.70 C661.50,388.63 666.77,388.12 668.40,388.00 L668.40,405.20 C666.77,404.35 661.50,401.42 658.60,400.10 C655.70,398.78 653.55,397.90 651.00,397.30 C648.45,396.70 645.85,396.42 643.30,396.50 C640.75,396.58 638.23,397.20 635.70,397.80 C633.17,398.40 630.63,399.18 628.10,400.10 C625.57,401.02 621.77,402.77 620.50,403.30 Z" fill="#d3d3d3" stroke="none"/>
<path d="M620.50,389.30 C621.77,389.35 625.57,389.45 628.10,389.60 C630.63,389.75 633.17,389.93 635.70,390.20 C638.23,390.47 640.75,390.78 643.30,391.20 C645.85,391.62 648.45,392.23 651.00,392.70 C653.55,393.17 655.70,393.37 658.60,394.00 C661.50,394.63 666.77,396.08 668.40,396.50" fill="none" stroke="#3366ff" stroke-width="1.45" stroke-linecap="butt"/>
<path d="M419.20,466.60 C420.62,466.55 424.17,466.45 427.70,466.30 C431.23,466.15 436.17,465.95 440.40,465.70 C444.63,465.45 448.87,465.08 453.10,464.80 C457.33,464.52 462.42,464.28 465.80,464.00 C469.18,463.72 471.28,463.57 473.40,463.10 C475.52,462.63 477.02,461.83 478.50,461.20 C479.98,460.57 481.07,459.82 482.30,459.30 C483.53,458.78 485.30,458.30 485.90,458.10 L485.90,472.70 C485.08,472.58 482.87,472.05 481.00,472.00 C479.13,471.95 476.82,471.97 474.70,472.40 C472.58,472.83 470.42,473.50 468.30,474.60 C466.18,475.70 464.53,477.00 462.00,479.00 C459.47,481.00 456.70,483.63 453.10,486.60 C449.50,489.57 444.63,493.62 440.40,496.80 C436.17,499.98 431.23,503.12 427.70,505.70 C424.17,508.28 420.62,511.20 419.20,512.30 Z" fill="#d3d3d3" stroke="none"/>
<path d="M419.20,489.80 C420.62,489.22 424.17,487.88 427.70,486.30 C431.23,484.72 436.17,482.32 440.40,480.30 C444.63,478.28 448.87,476.00 453.10,474.20 C457.33,472.40 461.98,470.77 465.80,469.50 C469.62,468.23 472.65,467.30 476.00,466.60 C479.35,465.90 484.25,465.52 485.90,465.30" fill="none" stroke="#3366ff" stroke-width="1.45" stroke-linecap="butt"/>
<path d="M529.40,459.70 C530.72,460.27 534.72,461.95 537.30,463.10 C539.88,464.25 542.15,465.53 544.90,466.60 C547.65,467.67 551.05,468.80 553.80,469.50 C556.55,470.20 558.65,470.58 561.40,470.80 C564.15,471.02 566.45,470.95 570.30,470.80 C574.15,470.65 582.13,470.05 584.50,469.90 L584.50,491.70 C582.13,490.33 574.15,485.37 570.30,483.50 C566.45,481.63 564.15,481.08 561.40,480.50 C558.65,479.92 556.55,479.82 553.80,480.00 C551.05,480.18 547.65,480.82 544.90,481.60 C542.15,482.38 539.88,483.48 537.30,484.70 C534.72,485.92 530.72,488.20 529.40,488.90 Z" fill="#d3d3d3" stroke="none"/>
<path d="M529.40,474.20 C530.72,474.12 534.72,473.75 537.30,473.70 C539.88,473.65 542.15,473.70 544.90,473.90 C547.65,474.10 551.05,474.52 553.80,474.90 C556.55,475.28 558.65,475.68 561.40,476.20 C564.15,476.72 566.45,477.22 570.30,478.00 C574.15,478.78 582.13,480.42 584.50,480.90" fill="none" stroke="#3366ff" stroke-width="1.45" stroke-linecap="butt"/>
<line x1="413.00" y1="370.20" x2="415.20" y2="370.20" stroke="#9a9a9a" stroke-width="0.8"/>
<text x="412.20" y="373.70" font-size="11.0" text-anchor="end" stroke="#1e1e1e" stroke-width="0.25" fill="#1e1e1e">50</text>
<line x1="413.00" y1="391.20" x2="415.20" y2="391.20" stroke="#9a9a9a" stroke-width="0.8"/>
<text x="412.20" y="394.70" font-size="11.0" text-anchor="end" stroke="#1e1e1e" stroke-width="0.25" fill="#1e1e1e">0</text>
<line x1="413.00" y1="412.20" x2="415.20" y2="412.20" stroke="#9a9a9a" stroke-width="0.8"/>
<text x="412.20" y="415.70" font-size="11.0" text-anchor="end" stroke="#1e1e1e" stroke-width="0.25" fill="#1e1e1e">−50</text>
<line x1="413.00" y1="454.50" x2="415.20" y2="454.50" stroke="#9a9a9a" stroke-width="0.8"/>
<text x="412.20" y="458.00" font-size="11.0" text-anchor="end" stroke="#1e1e1e" stroke-width="0.25" fill="#1e1e1e">50</text>
<line x1="413.00" y1="475.50" x2="415.20" y2="475.50" stroke="#9a9a9a" stroke-width="0.8"/>
<text x="412.20" y="479.00" font-size="11.0" text-anchor="end" stroke="#1e1e1e" stroke-width="0.25" fill="#1e1e1e">0</text>
<line x1="413.00" y1="496.50" x2="415.20" y2="496.50" stroke="#9a9a9a" stroke-width="0.8"/>
<text x="412.20" y="500.00" font-size="11.0" text-anchor="end" stroke="#1e1e1e" stroke-width="0.25" fill="#1e1e1e">−50</text>
<line x1="604.30" y1="431.80" x2="604.30" y2="433.80" stroke="#9a9a9a" stroke-width="0.8"/>
<text x="605.20" y="442.00" font-size="11.0" text-anchor="middle" stroke="#1e1e1e" stroke-width="0.25" fill="#1e1e1e">−4</text>
<line x1="626.40" y1="431.80" x2="626.40" y2="433.80" stroke="#9a9a9a" stroke-width="0.8"/>
<text x="627.90" y="442.00" font-size="11.0" text-anchor="middle" stroke="#1e1e1e" stroke-width="0.25" fill="#1e1e1e">−2</text>
<line x1="648.60" y1="431.80" x2="648.60" y2="433.80" stroke="#9a9a9a" stroke-width="0.8"/>
<text x="649.90" y="442.00" font-size="11.0" text-anchor="middle" stroke="#1e1e1e" stroke-width="0.25" fill="#1e1e1e">0</text>
<line x1="670.70" y1="431.80" x2="670.70" y2="433.80" stroke="#9a9a9a" stroke-width="0.8"/>
<text x="672.90" y="442.00" font-size="11.0" text-anchor="middle" stroke="#1e1e1e" stroke-width="0.25" fill="#1e1e1e">2</text>
<line x1="428.00" y1="516.50" x2="428.00" y2="518.50" stroke="#9a9a9a" stroke-width="0.8"/>
<text x="428.90" y="526.70" font-size="11.0" text-anchor="middle" stroke="#1e1e1e" stroke-width="0.25" fill="#1e1e1e">−4</text>
<line x1="450.50" y1="516.50" x2="450.50" y2="518.50" stroke="#9a9a9a" stroke-width="0.8"/>
<text x="452.00" y="526.70" font-size="11.0" text-anchor="middle" stroke="#1e1e1e" stroke-width="0.25" fill="#1e1e1e">−2</text>
<line x1="472.70" y1="516.50" x2="472.70" y2="518.50" stroke="#9a9a9a" stroke-width="0.8"/>
<text x="474.00" y="526.70" font-size="11.0" text-anchor="middle" stroke="#1e1e1e" stroke-width="0.25" fill="#1e1e1e">0</text>
<line x1="495.00" y1="516.50" x2="495.00" y2="518.50" stroke="#9a9a9a" stroke-width="0.8"/>
<text x="497.20" y="526.70" font-size="11.0" text-anchor="middle" stroke="#1e1e1e" stroke-width="0.25" fill="#1e1e1e">2</text>
<line x1="516.00" y1="516.50" x2="516.00" y2="518.50" stroke="#9a9a9a" stroke-width="0.8"/>
<text x="516.90" y="526.70" font-size="11.0" text-anchor="middle" stroke="#1e1e1e" stroke-width="0.25" fill="#1e1e1e">−4</text>
<line x1="538.60" y1="516.50" x2="538.60" y2="518.50" stroke="#9a9a9a" stroke-width="0.8"/>
<text x="540.10" y="526.70" font-size="11.0" text-anchor="middle" stroke="#1e1e1e" stroke-width="0.25" fill="#1e1e1e">−2</text>
<line x1="560.90" y1="516.50" x2="560.90" y2="518.50" stroke="#9a9a9a" stroke-width="0.8"/>
<text x="562.20" y="526.70" font-size="11.0" text-anchor="middle" stroke="#1e1e1e" stroke-width="0.25" fill="#1e1e1e">0</text>
<line x1="583.20" y1="516.50" x2="583.20" y2="518.50" stroke="#9a9a9a" stroke-width="0.8"/>
<text x="585.40" y="526.70" font-size="11.0" text-anchor="middle" stroke="#1e1e1e" stroke-width="0.25" fill="#1e1e1e">2</text>
<text x="549.40" y="536.00" font-size="11.5" text-anchor="middle" letter-spacing="0.2" stroke="#000" stroke-width="0.25" fill="#000">exposure</text>
<text x="389.60" y="437.20" font-size="11.5" text-anchor="middle" letter-spacing="0.2" stroke="#000" stroke-width="0.25" fill="#000" transform="rotate(-90 389.60 437.20)">h(exposure)</text>
<rect x="84.30" y="919.20" width="85.40" height="67.80" fill="#ffffff" stroke="#b3b3b3" stroke-width="1.0"/>
<rect x="84.30" y="906.20" width="85.40" height="13.00" fill="#d9d9d9" stroke="#b8b8b8" stroke-width="0.8"/>
<line x1="84.30" y1="919.20" x2="169.70" y2="919.20" stroke="#9a9a9a" stroke-width="1.0"/>
<text x="141.20" y="916.80" font-size="11.5" text-anchor="middle" letter-spacing="0.2" stroke="#111" stroke-width="0.25" fill="#111">logLaNM</text>
<rect x="172.30" y="919.20" width="85.30" height="67.80" fill="#ffffff" stroke="#b3b3b3" stroke-width="1.0"/>
<rect x="172.30" y="906.20" width="85.30" height="13.00" fill="#d9d9d9" stroke="#b8b8b8" stroke-width="0.8"/>
<line x1="172.30" y1="919.20" x2="257.60" y2="919.20" stroke="#9a9a9a" stroke-width="1.0"/>
<text x="229.15" y="916.80" font-size="11.5" text-anchor="middle" letter-spacing="0.2" stroke="#111" stroke-width="0.25" fill="#111">logCeNM</text>
<rect x="260.30" y="919.20" width="85.10" height="67.80" fill="#ffffff" stroke="#b3b3b3" stroke-width="1.0"/>
<rect x="260.30" y="906.20" width="85.10" height="13.00" fill="#d9d9d9" stroke="#b8b8b8" stroke-width="0.8"/>
<line x1="260.30" y1="919.20" x2="345.40" y2="919.20" stroke="#9a9a9a" stroke-width="1.0"/>
<text x="317.05" y="916.80" font-size="11.5" text-anchor="middle" letter-spacing="0.2" stroke="#111" stroke-width="0.25" fill="#111">logPrNM</text>
<rect x="84.30" y="1003.50" width="85.40" height="67.20" fill="#ffffff" stroke="#b3b3b3" stroke-width="1.0"/>
<rect x="84.30" y="990.70" width="85.40" height="12.80" fill="#d9d9d9" stroke="#b8b8b8" stroke-width="0.8"/>
<line x1="84.30" y1="1003.50" x2="169.70" y2="1003.50" stroke="#9a9a9a" stroke-width="1.0"/>
<text x="141.20" y="1001.10" font-size="11.5" text-anchor="middle" letter-spacing="0.2" stroke="#111" stroke-width="0.25" fill="#111">logNdNM</text>
<rect x="172.30" y="1003.50" width="85.30" height="67.20" fill="#ffffff" stroke="#b3b3b3" stroke-width="1.0"/>
<rect x="172.30" y="990.70" width="85.30" height="12.80" fill="#d9d9d9" stroke="#b8b8b8" stroke-width="0.8"/>
<line x1="172.30" y1="1003.50" x2="257.60" y2="1003.50" stroke="#9a9a9a" stroke-width="1.0"/>
<text x="229.15" y="1001.10" font-size="11.5" text-anchor="middle" letter-spacing="0.2" stroke="#111" stroke-width="0.25" fill="#111">logYNM</text>
<path d="M114.10,938.60 C114.80,939.55 116.75,942.50 118.30,944.30 C119.85,946.10 121.50,947.98 123.40,949.40 C125.30,950.82 127.58,952.02 129.70,952.80 C131.82,953.58 133.98,954.03 136.10,954.10 C138.22,954.17 140.28,953.77 142.40,953.20 C144.52,952.63 146.88,951.77 148.80,950.70 C150.72,949.63 152.42,948.40 153.90,946.80 C155.38,945.20 156.65,943.32 157.70,941.10 C158.75,938.88 159.78,934.77 160.20,933.50 L160.20,964.60 C159.35,964.92 156.80,965.43 155.10,966.50 C153.40,967.57 151.68,969.68 150.00,971.00 C148.32,972.32 146.47,973.88 145.00,974.40 C143.53,974.92 142.68,974.67 141.20,974.10 C139.72,973.53 138.02,972.00 136.10,971.00 C134.18,970.00 131.82,968.63 129.70,968.10 C127.58,967.57 125.30,967.63 123.40,967.80 C121.50,967.97 119.85,968.42 118.30,969.10 C116.75,969.78 114.80,971.43 114.10,971.90 Z" fill="#d3d3d3" stroke="none"/>
<path d="M114.10,955.10 C115.22,955.48 118.62,956.55 120.80,957.40 C122.98,958.25 125.08,959.32 127.20,960.20 C129.32,961.08 131.60,962.12 133.50,962.70 C135.40,963.28 136.90,963.65 138.60,963.70 C140.30,963.75 142.00,963.58 143.70,963.00 C145.40,962.42 146.90,961.62 148.80,960.20 C150.70,958.78 153.20,956.37 155.10,954.50 C157.00,952.63 159.35,949.92 160.20,949.00" fill="none" stroke="#3366ff" stroke-width="1.45" stroke-linecap="butt"/>
<path d="M176.10,922.30 C177.37,923.22 181.17,925.93 183.70,927.80 C186.23,929.67 188.77,931.60 191.30,933.50 C193.83,935.40 196.35,937.40 198.90,939.20 C201.45,941.00 204.05,942.72 206.60,944.30 C209.15,945.88 211.67,947.37 214.20,948.70 C216.73,950.03 219.27,951.45 221.80,952.30 C224.33,953.15 226.87,953.65 229.40,953.80 C231.93,953.95 234.88,953.52 237.00,953.20 C239.12,952.88 240.40,952.43 242.10,951.90 C243.80,951.37 246.35,950.32 247.20,950.00 L247.20,977.30 C246.35,976.88 243.80,975.65 242.10,974.80 C240.40,973.95 239.12,972.98 237.00,972.20 C234.88,971.42 231.93,970.62 229.40,970.10 C226.87,969.58 224.33,969.17 221.80,969.10 C219.27,969.03 216.73,969.28 214.20,969.70 C211.67,970.12 209.15,970.87 206.60,971.60 C204.05,972.33 201.45,973.15 198.90,974.10 C196.35,975.05 193.83,976.23 191.30,977.30 C188.77,978.37 186.23,979.37 183.70,980.50 C181.17,981.63 177.37,983.50 176.10,984.10 Z" fill="#d3d3d3" stroke="none"/>
<path d="M176.10,953.40 C177.78,953.75 182.82,954.80 186.20,955.50 C189.58,956.20 193.00,956.95 196.40,957.60 C199.80,958.25 203.22,958.87 206.60,959.40 C209.98,959.93 213.32,960.35 216.70,960.80 C220.08,961.25 223.52,961.72 226.90,962.10 C230.28,962.48 233.62,962.83 237.00,963.10 C240.38,963.37 245.50,963.60 247.20,963.70" fill="none" stroke="#3366ff" stroke-width="1.45" stroke-linecap="butt"/>
<path d="M293.00,942.40 C294.32,942.93 298.10,944.53 300.90,945.60 C303.70,946.67 306.83,947.85 309.80,948.80 C312.77,949.75 315.73,950.78 318.70,951.30 C321.67,951.82 324.55,952.00 327.60,951.90 C330.65,951.80 335.43,950.90 337.00,950.70 L337.00,969.10 C335.43,968.88 330.65,968.07 327.60,967.80 C324.55,967.53 321.67,967.40 318.70,967.50 C315.73,967.60 312.77,967.88 309.80,968.40 C306.83,968.92 303.70,969.85 300.90,970.60 C298.10,971.35 294.32,972.52 293.00,972.90 Z" fill="#d3d3d3" stroke="none"/>
<path d="M293.00,957.60 C294.73,957.73 299.55,958.13 303.40,958.40 C307.25,958.67 312.07,958.98 316.10,959.20 C320.13,959.42 324.12,959.53 327.60,959.70 C331.08,959.87 335.43,960.12 337.00,960.20" fill="none" stroke="#3366ff" stroke-width="1.45" stroke-linecap="butt"/>
<path d="M120.20,1027.00 C121.15,1027.50 123.88,1028.93 125.90,1030.00 C127.92,1031.07 130.18,1032.57 132.30,1033.40 C134.42,1034.23 136.48,1034.90 138.60,1035.00 C140.72,1035.10 142.82,1034.80 145.00,1034.00 C147.18,1033.20 150.58,1030.83 151.70,1030.20 L151.70,1050.50 C150.58,1050.40 147.18,1049.73 145.00,1049.90 C142.82,1050.07 140.72,1050.77 138.60,1051.50 C136.48,1052.23 134.42,1053.20 132.30,1054.30 C130.18,1055.40 127.92,1056.82 125.90,1058.10 C123.88,1059.38 121.15,1061.35 120.20,1062.00 Z" fill="#d3d3d3" stroke="none"/>
<path d="M120.20,1044.60 C121.58,1044.53 125.65,1044.42 128.50,1044.20 C131.35,1043.98 134.55,1043.68 137.30,1043.30 C140.05,1042.92 142.60,1042.38 145.00,1041.90 C147.40,1041.42 150.58,1040.65 151.70,1040.40" fill="none" stroke="#3366ff" stroke-width="1.45" stroke-linecap="butt"/>
<path d="M195.10,1008.90 C195.73,1010.23 197.63,1014.20 198.90,1016.90 C200.17,1019.60 201.42,1022.57 202.70,1025.10 C203.98,1027.63 205.12,1030.18 206.60,1032.10 C208.08,1034.02 209.70,1035.48 211.60,1036.60 C213.50,1037.72 215.88,1038.28 218.00,1038.80 C220.12,1039.32 222.18,1039.70 224.30,1039.70 C226.42,1039.70 228.58,1039.53 230.70,1038.80 C232.82,1038.07 234.88,1036.73 237.00,1035.30 C239.12,1033.87 241.28,1032.10 243.40,1030.20 C245.52,1028.30 248.00,1025.70 249.70,1023.90 C251.40,1022.10 252.95,1020.15 253.60,1019.40 L253.60,1049.00 C252.53,1049.15 249.32,1049.53 247.20,1049.90 C245.08,1050.27 243.02,1050.67 240.90,1051.20 C238.78,1051.73 236.62,1052.37 234.50,1053.10 C232.38,1053.83 230.32,1055.03 228.20,1055.60 C226.08,1056.17 223.92,1056.50 221.80,1056.50 C219.68,1056.50 217.62,1055.85 215.50,1055.60 C213.38,1055.35 211.02,1054.58 209.10,1055.00 C207.18,1055.42 205.70,1056.73 204.00,1058.10 C202.30,1059.47 200.38,1061.60 198.90,1063.20 C197.42,1064.80 195.73,1066.95 195.10,1067.70 Z" fill="#d3d3d3" stroke="none"/>
<path d="M195.10,1038.50 C196.37,1038.92 200.15,1040.05 202.70,1041.00 C205.25,1041.95 207.85,1043.20 210.40,1044.20 C212.95,1045.20 215.68,1046.33 218.00,1047.00 C220.32,1047.67 222.18,1048.13 224.30,1048.20 C226.42,1048.27 228.58,1048.03 230.70,1047.40 C232.82,1046.77 234.67,1045.68 237.00,1044.40 C239.33,1043.12 241.93,1041.38 244.70,1039.70 C247.47,1038.02 252.12,1035.20 253.60,1034.30" fill="none" stroke="#3366ff" stroke-width="1.45" stroke-linecap="butt"/>
<line x1="82.10" y1="931.50" x2="84.30" y2="931.50" stroke="#9a9a9a" stroke-width="0.8"/>
<text x="81.30" y="934.10" font-size="11.0" text-anchor="end" stroke="#1e1e1e" stroke-width="0.25" fill="#1e1e1e">50</text>
<line x1="82.10" y1="945.40" x2="84.30" y2="945.40" stroke="#9a9a9a" stroke-width="0.8"/>
<text x="81.30" y="948.00" font-size="11.0" text-anchor="end" stroke="#1e1e1e" stroke-width="0.25" fill="#1e1e1e">25</text>
<line x1="82.10" y1="959.20" x2="84.30" y2="959.20" stroke="#9a9a9a" stroke-width="0.8"/>
<text x="81.30" y="961.80" font-size="11.0" text-anchor="end" stroke="#1e1e1e" stroke-width="0.25" fill="#1e1e1e">0</text>
<line x1="82.10" y1="972.80" x2="84.30" y2="972.80" stroke="#9a9a9a" stroke-width="0.8"/>
<text x="81.30" y="975.40" font-size="11.0" text-anchor="end" stroke="#1e1e1e" stroke-width="0.25" fill="#1e1e1e">−25</text>
<line x1="82.10" y1="986.30" x2="84.30" y2="986.30" stroke="#9a9a9a" stroke-width="0.8"/>
<text x="81.30" y="988.90" font-size="11.0" text-anchor="end" stroke="#1e1e1e" stroke-width="0.25" fill="#1e1e1e">−50</text>
<line x1="82.10" y1="1015.80" x2="84.30" y2="1015.80" stroke="#9a9a9a" stroke-width="0.8"/>
<text x="81.30" y="1018.40" font-size="11.0" text-anchor="end" stroke="#1e1e1e" stroke-width="0.25" fill="#1e1e1e">50</text>
<line x1="82.10" y1="1029.70" x2="84.30" y2="1029.70" stroke="#9a9a9a" stroke-width="0.8"/>
<text x="81.30" y="1032.30" font-size="11.0" text-anchor="end" stroke="#1e1e1e" stroke-width="0.25" fill="#1e1e1e">25</text>
<line x1="82.10" y1="1043.50" x2="84.30" y2="1043.50" stroke="#9a9a9a" stroke-width="0.8"/>
<text x="81.30" y="1046.10" font-size="11.0" text-anchor="end" stroke="#1e1e1e" stroke-width="0.25" fill="#1e1e1e">0</text>
<line x1="82.10" y1="1057.10" x2="84.30" y2="1057.10" stroke="#9a9a9a" stroke-width="0.8"/>
<text x="81.30" y="1059.70" font-size="11.0" text-anchor="end" stroke="#1e1e1e" stroke-width="0.25" fill="#1e1e1e">−25</text>
<line x1="82.10" y1="1070.60" x2="84.30" y2="1070.60" stroke="#9a9a9a" stroke-width="0.8"/>
<text x="81.30" y="1073.20" font-size="11.0" text-anchor="end" stroke="#1e1e1e" stroke-width="0.25" fill="#1e1e1e">−50</text>
<line x1="273.70" y1="986.70" x2="273.70" y2="988.70" stroke="#9a9a9a" stroke-width="0.8"/>
<text x="275.80" y="996.90" font-size="11.0" text-anchor="middle" stroke="#1e1e1e" stroke-width="0.25" fill="#1e1e1e">−3</text>
<line x1="288.60" y1="986.70" x2="288.60" y2="988.70" stroke="#9a9a9a" stroke-width="0.8"/>
<text x="290.70" y="996.90" font-size="11.0" text-anchor="middle" stroke="#1e1e1e" stroke-width="0.25" fill="#1e1e1e">−2</text>
<line x1="303.30" y1="986.70" x2="303.30" y2="988.70" stroke="#9a9a9a" stroke-width="0.8"/>
<text x="305.30" y="996.90" font-size="11.0" text-anchor="middle" stroke="#1e1e1e" stroke-width="0.25" fill="#1e1e1e">−1</text>
<line x1="318.10" y1="986.70" x2="318.10" y2="988.70" stroke="#9a9a9a" stroke-width="0.8"/>
<text x="319.20" y="996.90" font-size="11.0" text-anchor="middle" stroke="#1e1e1e" stroke-width="0.25" fill="#1e1e1e">0</text>
<line x1="333.00" y1="986.70" x2="333.00" y2="988.70" stroke="#9a9a9a" stroke-width="0.8"/>
<text x="333.70" y="996.90" font-size="11.0" text-anchor="middle" stroke="#1e1e1e" stroke-width="0.25" fill="#1e1e1e">1</text>
<line x1="97.60" y1="1071.10" x2="97.60" y2="1073.10" stroke="#9a9a9a" stroke-width="0.8"/>
<text x="99.70" y="1081.30" font-size="11.0" text-anchor="middle" stroke="#1e1e1e" stroke-width="0.25" fill="#1e1e1e">−3</text>
<line x1="112.50" y1="1071.10" x2="112.50" y2="1073.10" stroke="#9a9a9a" stroke-width="0.8"/>
<text x="114.60" y="1081.30" font-size="11.0" text-anchor="middle" stroke="#1e1e1e" stroke-width="0.25" fill="#1e1e1e">−2</text>
<line x1="127.20" y1="1071.10" x2="127.20" y2="1073.10" stroke="#9a9a9a" stroke-width="0.8"/>
<text x="129.20" y="1081.30" font-size="11.0" text-anchor="middle" stroke="#1e1e1e" stroke-width="0.25" fill="#1e1e1e">−1</text>
<line x1="142.00" y1="1071.10" x2="142.00" y2="1073.10" stroke="#9a9a9a" stroke-width="0.8"/>
<text x="143.10" y="1081.30" font-size="11.0" text-anchor="middle" stroke="#1e1e1e" stroke-width="0.25" fill="#1e1e1e">0</text>
<line x1="156.90" y1="1071.10" x2="156.90" y2="1073.10" stroke="#9a9a9a" stroke-width="0.8"/>
<text x="157.60" y="1081.30" font-size="11.0" text-anchor="middle" stroke="#1e1e1e" stroke-width="0.25" fill="#1e1e1e">1</text>
<line x1="185.70" y1="1071.10" x2="185.70" y2="1073.10" stroke="#9a9a9a" stroke-width="0.8"/>
<text x="187.80" y="1081.30" font-size="11.0" text-anchor="middle" stroke="#1e1e1e" stroke-width="0.25" fill="#1e1e1e">−3</text>
<line x1="200.60" y1="1071.10" x2="200.60" y2="1073.10" stroke="#9a9a9a" stroke-width="0.8"/>
<text x="202.70" y="1081.30" font-size="11.0" text-anchor="middle" stroke="#1e1e1e" stroke-width="0.25" fill="#1e1e1e">−2</text>
<line x1="215.30" y1="1071.10" x2="215.30" y2="1073.10" stroke="#9a9a9a" stroke-width="0.8"/>
<text x="217.30" y="1081.30" font-size="11.0" text-anchor="middle" stroke="#1e1e1e" stroke-width="0.25" fill="#1e1e1e">−1</text>
<line x1="230.10" y1="1071.10" x2="230.10" y2="1073.10" stroke="#9a9a9a" stroke-width="0.8"/>
<text x="231.20" y="1081.30" font-size="11.0" text-anchor="middle" stroke="#1e1e1e" stroke-width="0.25" fill="#1e1e1e">0</text>
<line x1="245.00" y1="1071.10" x2="245.00" y2="1073.10" stroke="#9a9a9a" stroke-width="0.8"/>
<text x="245.70" y="1081.30" font-size="11.0" text-anchor="middle" stroke="#1e1e1e" stroke-width="0.25" fill="#1e1e1e">1</text>
<text x="218.50" y="1091.00" font-size="11.5" text-anchor="middle" letter-spacing="0.2" stroke="#000" stroke-width="0.25" fill="#000">exposure</text>
<text x="59.50" y="992.60" font-size="11.5" text-anchor="middle" letter-spacing="0.2" stroke="#000" stroke-width="0.25" fill="#000" transform="rotate(-90 59.50 992.60)">h(exposure)</text>
<rect x="415.10" y="919.20" width="85.30" height="67.80" fill="#ffffff" stroke="#b3b3b3" stroke-width="1.0"/>
<rect x="415.10" y="906.40" width="85.30" height="12.80" fill="#d9d9d9" stroke="#b8b8b8" stroke-width="0.8"/>
<line x1="415.10" y1="919.20" x2="500.40" y2="919.20" stroke="#9a9a9a" stroke-width="1.0"/>
<text x="471.95" y="916.80" font-size="11.5" text-anchor="middle" letter-spacing="0.2" stroke="#111" stroke-width="0.25" fill="#111">logLaNM</text>
<rect x="503.30" y="919.20" width="85.00" height="67.80" fill="#ffffff" stroke="#b3b3b3" stroke-width="1.0"/>
<rect x="503.30" y="906.40" width="85.00" height="12.80" fill="#d9d9d9" stroke="#b8b8b8" stroke-width="0.8"/>
<line x1="503.30" y1="919.20" x2="588.30" y2="919.20" stroke="#9a9a9a" stroke-width="1.0"/>
<text x="560.00" y="916.80" font-size="11.5" text-anchor="middle" letter-spacing="0.2" stroke="#111" stroke-width="0.25" fill="#111">logCeNM</text>
<rect x="591.30" y="919.20" width="85.40" height="67.80" fill="#ffffff" stroke="#b3b3b3" stroke-width="1.0"/>
<rect x="591.30" y="906.40" width="85.40" height="12.80" fill="#d9d9d9" stroke="#b8b8b8" stroke-width="0.8"/>
<line x1="591.30" y1="919.20" x2="676.70" y2="919.20" stroke="#9a9a9a" stroke-width="1.0"/>
<text x="648.20" y="916.80" font-size="11.5" text-anchor="middle" letter-spacing="0.2" stroke="#111" stroke-width="0.25" fill="#111">logPrNM</text>
<rect x="415.10" y="1003.50" width="85.30" height="67.50" fill="#ffffff" stroke="#b3b3b3" stroke-width="1.0"/>
<rect x="415.10" y="990.50" width="85.30" height="13.00" fill="#d9d9d9" stroke="#b8b8b8" stroke-width="0.8"/>
<line x1="415.10" y1="1003.50" x2="500.40" y2="1003.50" stroke="#9a9a9a" stroke-width="1.0"/>
<text x="471.95" y="1001.10" font-size="11.5" text-anchor="middle" letter-spacing="0.2" stroke="#111" stroke-width="0.25" fill="#111">logNdNM</text>
<rect x="503.30" y="1003.50" width="85.00" height="67.50" fill="#ffffff" stroke="#b3b3b3" stroke-width="1.0"/>
<rect x="503.30" y="990.50" width="85.00" height="13.00" fill="#d9d9d9" stroke="#b8b8b8" stroke-width="0.8"/>
<line x1="503.30" y1="1003.50" x2="588.30" y2="1003.50" stroke="#9a9a9a" stroke-width="1.0"/>
<text x="560.00" y="1001.10" font-size="11.5" text-anchor="middle" letter-spacing="0.2" stroke="#111" stroke-width="0.25" fill="#111">logYNM</text>
<path d="M445.10,951.90 C445.80,952.05 447.97,952.65 449.30,952.80 C450.63,952.95 451.62,953.15 453.10,952.80 C454.58,952.45 456.30,951.80 458.20,950.70 C460.10,949.60 462.38,947.80 464.50,946.20 C466.62,944.60 468.78,942.83 470.90,941.10 C473.02,939.37 475.08,937.70 477.20,935.80 C479.32,933.90 481.32,931.88 483.60,929.70 C485.88,927.52 489.68,923.87 490.90,922.70 L490.90,948.10 C490.10,948.32 487.95,948.65 486.10,949.40 C484.25,950.15 481.92,951.43 479.80,952.60 C477.68,953.77 475.52,955.03 473.40,956.40 C471.28,957.77 469.22,959.22 467.10,960.80 C464.98,962.38 462.82,964.10 460.70,965.90 C458.58,967.70 456.30,969.63 454.40,971.60 C452.50,973.57 450.85,975.68 449.30,977.70 C447.75,979.72 445.80,982.70 445.10,983.70 Z" fill="#d3d3d3" stroke="none"/>
<path d="M445.10,968.10 C446.02,967.45 448.63,965.63 450.60,964.20 C452.57,962.77 454.78,961.12 456.90,959.50 C459.02,957.88 461.18,956.17 463.30,954.50 C465.42,952.83 467.48,951.15 469.60,949.50 C471.72,947.85 473.88,946.12 476.00,944.60 C478.12,943.08 480.55,941.50 482.30,940.40 C484.05,939.30 485.07,938.73 486.50,938.00 C487.93,937.27 490.17,936.33 490.90,936.00" fill="none" stroke="#3366ff" stroke-width="1.45" stroke-linecap="butt"/>
<path d="M507.20,928.20 C508.62,928.67 512.80,930.02 515.70,931.00 C518.60,931.98 521.63,933.05 524.60,934.10 C527.57,935.15 530.53,936.33 533.50,937.30 C536.47,938.27 539.43,939.15 542.40,939.90 C545.37,940.65 548.55,941.43 551.30,941.80 C554.05,942.17 556.37,942.22 558.90,942.10 C561.43,941.98 564.18,941.52 566.50,941.10 C568.82,940.68 570.82,940.07 572.80,939.60 C574.78,939.13 577.47,938.52 578.40,938.30 L578.40,961.70 C577.47,961.48 574.78,960.82 572.80,960.40 C570.82,959.98 568.82,959.55 566.50,959.20 C564.18,958.85 561.43,958.35 558.90,958.30 C556.37,958.25 554.05,958.37 551.30,958.90 C548.55,959.43 545.37,960.43 542.40,961.50 C539.43,962.57 536.47,963.93 533.50,965.30 C530.53,966.67 527.57,968.23 524.60,969.70 C521.63,971.17 518.60,972.68 515.70,974.10 C512.80,975.52 508.62,977.52 507.20,978.20 Z" fill="#d3d3d3" stroke="none"/>
<path d="M507.20,953.40 C509.67,953.18 516.35,952.52 522.00,952.10 C527.65,951.68 534.73,951.20 541.10,950.90 C547.47,950.60 553.98,950.45 560.20,950.30 C566.42,950.15 575.37,950.05 578.40,950.00" fill="none" stroke="#3366ff" stroke-width="1.45" stroke-linecap="butt"/>
<path d="M624.00,936.00 C625.32,936.47 629.10,937.83 631.90,938.80 C634.70,939.77 637.83,941.03 640.80,941.80 C643.77,942.57 646.73,943.20 649.70,943.40 C652.67,943.60 655.55,943.33 658.60,943.00 C661.65,942.67 666.43,941.67 668.00,941.40 L668.00,963.70 C666.43,963.22 661.65,961.50 658.60,960.80 C655.55,960.10 652.67,959.65 649.70,959.50 C646.73,959.35 643.77,959.53 640.80,959.90 C637.83,960.27 634.70,960.98 631.90,961.70 C629.10,962.42 625.32,963.78 624.00,964.20 Z" fill="#d3d3d3" stroke="none"/>
<path d="M624.00,950.30 C625.75,950.37 630.63,950.53 634.50,950.70 C638.37,950.87 643.18,951.10 647.20,951.30 C651.22,951.50 655.13,951.65 658.60,951.90 C662.07,952.15 666.43,952.65 668.00,952.80" fill="none" stroke="#3366ff" stroke-width="1.45" stroke-linecap="butt"/>
<path d="M451.20,1026.10 C452.15,1026.25 454.88,1026.78 456.90,1027.00 C458.92,1027.22 461.40,1027.50 463.30,1027.40 C465.20,1027.30 466.62,1026.98 468.30,1026.40 C469.98,1025.82 471.70,1024.97 473.40,1023.90 C475.10,1022.83 476.95,1021.28 478.50,1020.00 C480.05,1018.72 482.00,1016.83 482.70,1016.20 L482.70,1039.10 C481.58,1039.20 477.97,1039.28 476.00,1039.70 C474.03,1040.12 472.60,1040.75 470.90,1041.60 C469.20,1042.45 467.50,1043.52 465.80,1044.80 C464.10,1046.08 462.40,1047.72 460.70,1049.30 C459.00,1050.88 457.18,1052.50 455.60,1054.30 C454.02,1056.10 451.93,1059.13 451.20,1060.10 Z" fill="#d3d3d3" stroke="none"/>
<path d="M451.20,1043.30 C456.45,1040.65 477.45,1030.05 482.70,1027.40" fill="none" stroke="#3366ff" stroke-width="1.45" stroke-linecap="butt"/>
<path d="M526.20,1008.40 C527.20,1009.28 530.13,1011.97 532.20,1013.70 C534.27,1015.43 536.48,1017.28 538.60,1018.80 C540.72,1020.32 542.78,1021.58 544.90,1022.80 C547.02,1024.02 548.97,1025.08 551.30,1026.10 C553.63,1027.12 556.37,1028.17 558.90,1028.90 C561.43,1029.63 563.97,1030.15 566.50,1030.50 C569.03,1030.85 571.10,1030.95 574.10,1031.00 C577.10,1031.05 582.77,1030.83 584.50,1030.80 L584.50,1062.00 C582.77,1060.52 577.10,1055.43 574.10,1053.10 C571.10,1050.77 569.03,1049.48 566.50,1048.00 C563.97,1046.52 561.43,1045.27 558.90,1044.20 C556.37,1043.13 553.63,1042.13 551.30,1041.60 C548.97,1041.07 547.02,1041.03 544.90,1041.00 C542.78,1040.97 540.72,1041.12 538.60,1041.40 C536.48,1041.68 534.27,1042.13 532.20,1042.70 C530.13,1043.27 527.20,1044.45 526.20,1044.80 Z" fill="#d3d3d3" stroke="none"/>
<path d="M526.20,1026.40 C527.42,1026.57 531.02,1026.87 533.50,1027.40 C535.98,1027.93 538.57,1028.82 541.10,1029.60 C543.63,1030.38 546.17,1031.15 548.70,1032.10 C551.23,1033.05 553.75,1034.23 556.30,1035.30 C558.85,1036.37 561.45,1037.45 564.00,1038.50 C566.55,1039.55 568.18,1040.27 571.60,1041.60 C575.02,1042.93 582.35,1045.68 584.50,1046.50" fill="none" stroke="#3366ff" stroke-width="1.45" stroke-linecap="butt"/>
<line x1="412.90" y1="931.70" x2="415.10" y2="931.70" stroke="#9a9a9a" stroke-width="0.8"/>
<text x="412.10" y="934.70" font-size="11.0" text-anchor="end" stroke="#1e1e1e" stroke-width="0.25" fill="#1e1e1e">20</text>
<line x1="412.90" y1="950.80" x2="415.10" y2="950.80" stroke="#9a9a9a" stroke-width="0.8"/>
<text x="412.10" y="953.80" font-size="11.0" text-anchor="end" stroke="#1e1e1e" stroke-width="0.25" fill="#1e1e1e">0</text>
<line x1="412.90" y1="970.00" x2="415.10" y2="970.00" stroke="#9a9a9a" stroke-width="0.8"/>
<text x="412.10" y="973.00" font-size="11.0" text-anchor="end" stroke="#1e1e1e" stroke-width="0.25" fill="#1e1e1e">−20</text>
<line x1="412.90" y1="1015.30" x2="415.10" y2="1015.30" stroke="#9a9a9a" stroke-width="0.8"/>
<text x="412.10" y="1018.30" font-size="11.0" text-anchor="end" stroke="#1e1e1e" stroke-width="0.25" fill="#1e1e1e">20</text>
<line x1="412.90" y1="1034.50" x2="415.10" y2="1034.50" stroke="#9a9a9a" stroke-width="0.8"/>
<text x="412.10" y="1037.50" font-size="11.0" text-anchor="end" stroke="#1e1e1e" stroke-width="0.25" fill="#1e1e1e">0</text>
<line x1="412.90" y1="1053.70" x2="415.10" y2="1053.70" stroke="#9a9a9a" stroke-width="0.8"/>
<text x="412.10" y="1056.70" font-size="11.0" text-anchor="end" stroke="#1e1e1e" stroke-width="0.25" fill="#1e1e1e">−20</text>
<line x1="604.70" y1="987.40" x2="604.70" y2="989.40" stroke="#9a9a9a" stroke-width="0.8"/>
<text x="606.80" y="997.60" font-size="11.0" text-anchor="middle" stroke="#1e1e1e" stroke-width="0.25" fill="#1e1e1e">−3</text>
<line x1="619.60" y1="987.40" x2="619.60" y2="989.40" stroke="#9a9a9a" stroke-width="0.8"/>
<text x="621.70" y="997.60" font-size="11.0" text-anchor="middle" stroke="#1e1e1e" stroke-width="0.25" fill="#1e1e1e">−2</text>
<line x1="634.30" y1="987.40" x2="634.30" y2="989.40" stroke="#9a9a9a" stroke-width="0.8"/>
<text x="636.30" y="997.60" font-size="11.0" text-anchor="middle" stroke="#1e1e1e" stroke-width="0.25" fill="#1e1e1e">−1</text>
<line x1="649.10" y1="987.40" x2="649.10" y2="989.40" stroke="#9a9a9a" stroke-width="0.8"/>
<text x="650.20" y="997.60" font-size="11.0" text-anchor="middle" stroke="#1e1e1e" stroke-width="0.25" fill="#1e1e1e">0</text>
<line x1="664.00" y1="987.40" x2="664.00" y2="989.40" stroke="#9a9a9a" stroke-width="0.8"/>
<text x="664.70" y="997.60" font-size="11.0" text-anchor="middle" stroke="#1e1e1e" stroke-width="0.25" fill="#1e1e1e">1</text>
<line x1="428.50" y1="1071.20" x2="428.50" y2="1073.20" stroke="#9a9a9a" stroke-width="0.8"/>
<text x="430.60" y="1081.40" font-size="11.0" text-anchor="middle" stroke="#1e1e1e" stroke-width="0.25" fill="#1e1e1e">−3</text>
<line x1="443.40" y1="1071.20" x2="443.40" y2="1073.20" stroke="#9a9a9a" stroke-width="0.8"/>
<text x="445.50" y="1081.40" font-size="11.0" text-anchor="middle" stroke="#1e1e1e" stroke-width="0.25" fill="#1e1e1e">−2</text>
<line x1="458.10" y1="1071.20" x2="458.10" y2="1073.20" stroke="#9a9a9a" stroke-width="0.8"/>
<text x="460.10" y="1081.40" font-size="11.0" text-anchor="middle" stroke="#1e1e1e" stroke-width="0.25" fill="#1e1e1e">−1</text>
<line x1="472.90" y1="1071.20" x2="472.90" y2="1073.20" stroke="#9a9a9a" stroke-width="0.8"/>
<text x="474.00" y="1081.40" font-size="11.0" text-anchor="middle" stroke="#1e1e1e" stroke-width="0.25" fill="#1e1e1e">0</text>
<line x1="487.80" y1="1071.20" x2="487.80" y2="1073.20" stroke="#9a9a9a" stroke-width="0.8"/>
<text x="488.50" y="1081.40" font-size="11.0" text-anchor="middle" stroke="#1e1e1e" stroke-width="0.25" fill="#1e1e1e">1</text>
<line x1="516.70" y1="1071.20" x2="516.70" y2="1073.20" stroke="#9a9a9a" stroke-width="0.8"/>
<text x="518.80" y="1081.40" font-size="11.0" text-anchor="middle" stroke="#1e1e1e" stroke-width="0.25" fill="#1e1e1e">−3</text>
<line x1="531.60" y1="1071.20" x2="531.60" y2="1073.20" stroke="#9a9a9a" stroke-width="0.8"/>
<text x="533.70" y="1081.40" font-size="11.0" text-anchor="middle" stroke="#1e1e1e" stroke-width="0.25" fill="#1e1e1e">−2</text>
<line x1="546.30" y1="1071.20" x2="546.30" y2="1073.20" stroke="#9a9a9a" stroke-width="0.8"/>
<text x="548.30" y="1081.40" font-size="11.0" text-anchor="middle" stroke="#1e1e1e" stroke-width="0.25" fill="#1e1e1e">−1</text>
<line x1="561.10" y1="1071.20" x2="561.10" y2="1073.20" stroke="#9a9a9a" stroke-width="0.8"/>
<text x="562.20" y="1081.40" font-size="11.0" text-anchor="middle" stroke="#1e1e1e" stroke-width="0.25" fill="#1e1e1e">0</text>
<line x1="576.00" y1="1071.20" x2="576.00" y2="1073.20" stroke="#9a9a9a" stroke-width="0.8"/>
<text x="576.70" y="1081.40" font-size="11.0" text-anchor="middle" stroke="#1e1e1e" stroke-width="0.25" fill="#1e1e1e">1</text>
<text x="549.70" y="1090.40" font-size="11.5" text-anchor="middle" letter-spacing="0.2" stroke="#000" stroke-width="0.25" fill="#000">exposure</text>
<text x="389.60" y="992.60" font-size="11.5" text-anchor="middle" letter-spacing="0.2" stroke="#000" stroke-width="0.25" fill="#000" transform="rotate(-90 389.60 992.60)">h(exposure)</text>
</svg>
</body></html>
